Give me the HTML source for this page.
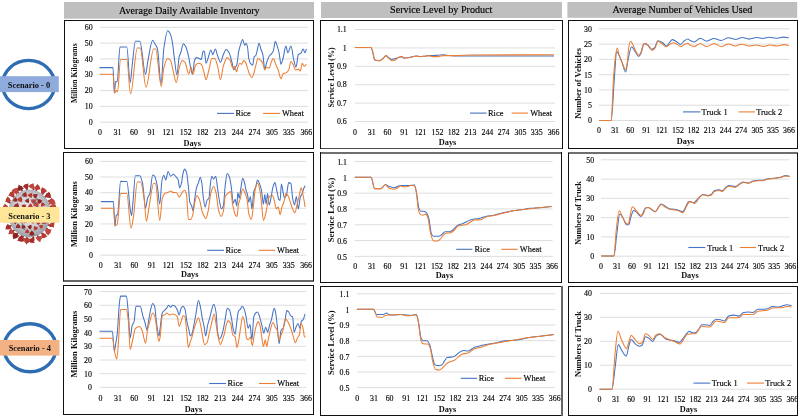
<!DOCTYPE html>
<html><head><meta charset="utf-8"><style>
html,body{margin:0;padding:0;background:#fff;width:800px;height:417px;overflow:hidden}
svg{display:block;will-change:transform}
text{font-family:"Liberation Serif", serif;fill:#1a1a1a}
.t{font-size:7.9px;fill:#000;stroke:#000;stroke-width:0.14px}
.l{font-size:8.4px;fill:#000;stroke:#000;stroke-width:0.14px}
.b{font-size:8.3px;font-weight:bold;fill:#111}
.yt{font-size:7.7px;font-weight:bold;fill:#111}
.h{font-size:10.1px;fill:#000;stroke:#000;stroke-width:0.15px}
.s{font-size:8.4px;font-weight:bold;fill:#111}
</style></head><body>
<svg width="800" height="417" viewBox="0 0 800 417">
<rect x="64" y="2" width="250" height="16.7" fill="#BFBFBF"/>
<text x="189.3" y="14.3" text-anchor="middle" class="h">Average Daily Available Inventory</text>
<rect x="321" y="2" width="241" height="16" fill="#BFBFBF"/>
<text x="441.2" y="13" text-anchor="middle" class="h">Service Level by Product</text>
<rect x="567.4" y="2" width="229.8" height="15.8" fill="#BFBFBF"/>
<text x="682.4" y="13" text-anchor="middle" class="h">Average Number of Vehicles Used</text>
<line x1="100" y1="27.3" x2="307.8" y2="27.3" stroke="#D9D9D9" stroke-width="0.9"/>
<text x="92.6" y="29.9" text-anchor="end" class="t">60</text>
<line x1="100" y1="43.12" x2="307.8" y2="43.12" stroke="#D9D9D9" stroke-width="0.9"/>
<text x="92.6" y="45.72" text-anchor="end" class="t">50</text>
<line x1="100" y1="58.93" x2="307.8" y2="58.93" stroke="#D9D9D9" stroke-width="0.9"/>
<text x="92.6" y="61.53" text-anchor="end" class="t">40</text>
<line x1="100" y1="74.75" x2="307.8" y2="74.75" stroke="#D9D9D9" stroke-width="0.9"/>
<text x="92.6" y="77.35" text-anchor="end" class="t">30</text>
<line x1="100" y1="90.57" x2="307.8" y2="90.57" stroke="#D9D9D9" stroke-width="0.9"/>
<text x="92.6" y="93.17" text-anchor="end" class="t">20</text>
<line x1="100" y1="106.38" x2="307.8" y2="106.38" stroke="#D9D9D9" stroke-width="0.9"/>
<text x="92.6" y="108.98" text-anchor="end" class="t">10</text>
<line x1="100" y1="122.2" x2="307.8" y2="122.2" stroke="#D9D9D9" stroke-width="0.9"/>
<text x="92.6" y="124.8" text-anchor="end" class="t">0</text>
<text x="100.1" y="134.8" text-anchor="middle" class="t">0</text>
<text x="117.57" y="134.8" text-anchor="middle" class="t">31</text>
<text x="133.9" y="134.8" text-anchor="middle" class="t">60</text>
<text x="151.37" y="134.8" text-anchor="middle" class="t">91</text>
<text x="168.27" y="134.8" text-anchor="middle" class="t">121</text>
<text x="185.73" y="134.8" text-anchor="middle" class="t">152</text>
<text x="202.64" y="134.8" text-anchor="middle" class="t">182</text>
<text x="220.1" y="134.8" text-anchor="middle" class="t">213</text>
<text x="237.57" y="134.8" text-anchor="middle" class="t">244</text>
<text x="254.47" y="134.8" text-anchor="middle" class="t">274</text>
<text x="271.93" y="134.8" text-anchor="middle" class="t">305</text>
<text x="288.83" y="134.8" text-anchor="middle" class="t">335</text>
<text x="306.3" y="134.8" text-anchor="middle" class="t">366</text>
<text x="192.25" y="145.8" text-anchor="middle" class="b">Days</text>
<text transform="translate(77.4,73.2) rotate(-90)" text-anchor="middle" class="yt" style="font-size:7.6px">Million Kilograms</text>
<line x1="217" y1="113.4" x2="234" y2="113.4" stroke="#4472C4" stroke-width="1.1"/>
<line x1="263.1" y1="113.4" x2="279.9" y2="113.4" stroke="#ED7D31" stroke-width="1.1"/>
<text x="235.4" y="116" class="l">Rice</text>
<text x="281.9" y="116" class="l">Wheat</text>
<path d="M99.5,67.6 C104,67.6 108.5,67.6 113,67.6 C113.43,67.6 113.87,93 114.3,93 C114.77,93 115.23,81.6 115.7,81.6 C116.2,81.6 116.7,81.6 117.2,81.6 C118.13,81.6 119.07,47 120,47 C122.27,47 124.53,47 126.8,47 C127.93,47 129.07,82.5 130.2,82.5 C130.87,82.5 131.53,70.67 132.2,65.3 C133.27,56.71 134.33,41.3 135.4,41.3 C136.87,41.3 138.33,41.3 139.8,41.3 C141.73,41.3 143.67,74.3 145.6,74.3 C146.23,74.3 146.87,66.54 147.5,63.3 C149.23,54.42 150.97,40.3 152.7,40.3 C153.47,40.3 154.23,42.63 155,44 C155.83,45.48 156.67,46.32 157.5,49 C158.67,52.75 159.83,84 161,84 C161.93,84 162.87,55.53 163.8,49 C165.1,39.9 166.4,30.7 167.7,30.7 C168.67,30.7 169.63,32.52 170.6,34.6 C171.23,35.96 171.87,39.53 172.5,43.2 C173.13,46.87 173.77,53.9 174.4,58.5 C175.23,64.55 176.07,74.9 176.9,74.9 C177.67,74.9 178.43,59.44 179.2,56.6 C179.7,54.75 180.2,54.22 180.7,52.8 C181.6,50.24 182.5,43.8 183.4,43.8 C184.23,43.8 185.07,45.44 185.9,47 C186.87,48.81 187.83,53.29 188.8,57.6 C189.43,60.43 190.07,65.5 190.7,68.1 C191.33,70.7 191.97,74.3 192.6,74.3 C193.23,74.3 193.87,62.04 194.5,60.5 C195.17,58.88 195.83,57.6 196.5,57.6 C197.47,57.6 198.43,58.12 199.4,58.5 C200.03,58.75 200.67,59.5 201.3,59.5 C201.93,59.5 202.57,50.9 203.2,50.9 C203.63,50.9 204.07,51.26 204.5,51.8 C205,52.42 205.5,63.3 206,63.3 C206.67,63.3 207.33,60.26 208,58.5 C208.97,55.95 209.93,49.9 210.9,49.9 C211.53,49.9 212.17,54.7 212.8,54.7 C213.63,54.7 214.47,49 215.3,49 C216.07,49 216.83,53.72 217.6,55.7 C218.57,58.2 219.53,62.4 220.5,62.4 C221.43,62.4 222.37,56.73 223.3,54.7 C224.27,52.6 225.23,49.5 226.2,49.5 C227.17,49.5 228.13,51.16 229.1,52.8 C230.07,54.44 231.03,58.88 232,62.4 C232.63,64.71 233.27,70 233.9,70 C234.27,70 234.63,68.78 235,68.1 C235.63,66.93 236.27,66.27 236.9,64.3 C237.53,62.33 238.17,53.91 238.8,50.9 C239.33,48.37 239.87,46.69 240.4,45.1 C241.17,42.82 241.93,39.4 242.7,39.4 C243.33,39.4 243.97,45.1 244.6,45.1 C245.1,45.1 245.6,43.2 246.1,43.2 C246.57,43.2 247.03,45.05 247.5,47 C247.93,48.81 248.37,56.52 248.8,58.5 C249.33,60.93 249.87,62.56 250.4,63.3 C251.17,64.37 251.93,65.3 252.7,65.3 C253.2,65.3 253.7,57.14 254.2,56.6 C254.7,56.06 255.2,56.21 255.7,55.7 C256.17,55.22 256.63,52.63 257.1,50.9 C257.73,48.56 258.37,43.2 259,43.2 C259.63,43.2 260.27,47.08 260.9,49 C261.53,50.92 262.17,52.03 262.8,54.7 C263.47,57.51 264.13,69.1 264.8,69.1 C265.43,69.1 266.07,64.23 266.7,62.4 C267.63,59.71 268.57,56.94 269.5,55.7 C270.17,54.81 270.83,54.58 271.5,53.8 C272.13,53.06 272.77,52.38 273.4,50.9 C274.03,49.42 274.67,41.3 275.3,41.3 C275.93,41.3 276.57,44.24 277.2,46.1 C277.83,47.96 278.47,49.98 279.1,52.8 C279.73,55.62 280.37,64.3 281,64.3 C281.67,64.3 282.33,60.78 283,58.5 C283.97,55.2 284.93,46.1 285.9,46.1 C286.53,46.1 287.17,52.8 287.8,52.8 C288.87,52.8 289.93,46.1 291,46.1 C291.83,46.1 292.67,55.09 293.5,58.5 C294.33,61.91 295.17,67.2 296,67.2 C296.77,67.2 297.53,55.62 298.3,54.7 C299.27,53.53 300.23,53.79 301.2,52.8 C301.83,52.15 302.47,49 303.1,49 C303.73,49 304.37,52.8 305,52.8 C305.47,52.8 305.93,50.27 306.4,49" fill="none" stroke="#4472C4" stroke-width="1.05" stroke-linejoin="round"/>
<path d="M99.5,74.3 C104,74.3 108.5,74.3 113,74.3 C113.63,74.3 114.27,93 114.9,93 C115.33,93 115.77,90.2 116.2,90.2 C116.63,90.2 117.07,92 117.5,92 C118.53,92 119.57,59.5 120.6,59.5 C122.67,59.5 124.73,59.5 126.8,59.5 C128.07,59.5 129.33,94 130.6,94 C132.83,94 135.07,48 137.3,48 C138.27,48 139.23,48 140.2,48 C142.13,48 144.07,87.3 146,87.3 C148.57,87.3 151.13,49 153.7,49 C154.33,49 154.97,49 155.6,49 C157.5,49 159.4,86.4 161.3,86.4 C162.13,86.4 162.97,71.29 163.8,68.1 C165.1,63.13 166.4,58.5 167.7,58.5 C168.67,58.5 169.63,59.35 170.6,60.5 C171.53,61.61 172.47,68.41 173.4,72 C174.37,75.72 175.33,82.5 176.3,82.5 C177.27,82.5 178.23,71.42 179.2,68.1 C180.17,64.78 181.13,60.5 182.1,60.5 C183.07,60.5 184.03,61.39 185,62.4 C186.27,63.73 187.53,73.9 188.8,73.9 C189.57,73.9 190.33,67.2 191.1,67.2 C191.73,67.2 192.37,73.9 193,73.9 C193.83,73.9 194.67,66.27 195.5,65.3 C196.47,64.17 197.43,63.3 198.4,63.3 C199.37,63.3 200.33,63.7 201.3,64.3 C202.23,64.88 203.17,69.8 204.1,72.9 C204.73,75 205.37,79.7 206,79.7 C206.97,79.7 207.93,73.51 208.9,70 C209.87,66.49 210.83,58.5 211.8,58.5 C212.77,58.5 213.73,58.5 214.7,58.5 C215.67,58.5 216.63,62.93 217.6,66.2 C218.57,69.47 219.53,79.7 220.5,79.7 C221.43,79.7 222.37,69.08 223.3,66.2 C224.6,62.18 225.9,57.6 227.2,57.6 C228.17,57.6 229.13,59.08 230.1,60.5 C231.03,61.87 231.97,68.1 232.9,68.1 C233.57,68.1 234.23,66.2 234.9,66.2 C235.43,66.2 235.97,72 236.5,72 C236.97,72 237.43,68.41 237.9,67.2 C238.53,65.55 239.17,63.3 239.8,63.3 C240.43,63.3 241.07,64.3 241.7,64.3 C242.33,64.3 242.97,60.5 243.6,60.5 C244.27,60.5 244.93,61.43 245.6,62.4 C246.23,63.32 246.87,66.18 247.5,68.1 C248.13,70.02 248.77,72.59 249.4,73.9 C250.23,75.62 251.07,77.7 251.9,77.7 C252.67,77.7 253.43,74.38 254.2,72 C254.83,70.04 255.47,66.51 256.1,64.3 C256.73,62.09 257.37,58.5 258,58.5 C258.97,58.5 259.93,59.57 260.9,60.5 C261.53,61.11 262.17,62.01 262.8,63.3 C263.47,64.66 264.13,70 264.8,70 C265.43,70 266.07,67.2 266.7,67.2 C267.53,67.2 268.37,68.1 269.2,68.1 C269.97,68.1 270.73,62.92 271.5,61.4 C272.13,60.14 272.77,58.5 273.4,58.5 C274.17,58.5 274.93,62.46 275.7,64.3 C276.53,66.3 277.37,67.81 278.2,70 C279.13,72.45 280.07,78.7 281,78.7 C281.67,78.7 282.33,74.32 283,73.9 C283.97,73.29 284.93,73.4 285.9,72.9 C286.83,72.42 287.77,71.54 288.7,70 C289.47,68.73 290.23,61.4 291,61.4 C291.83,61.4 292.67,63.73 293.5,65.3 C294.17,66.56 294.83,70 295.5,70 C296.43,70 297.37,69.1 298.3,69.1 C298.97,69.1 299.63,71 300.3,71 C300.93,71 301.57,63.3 302.2,63.3 C302.83,63.3 303.47,66.2 304.1,66.2 C304.87,66.2 305.63,64.93 306.4,64.3" fill="none" stroke="#ED7D31" stroke-width="1.05" stroke-linejoin="round"/>
<line x1="64" y1="20.5" x2="314" y2="20.5" stroke="#111" stroke-width="1.05"/>
<line x1="64" y1="148.5" x2="314" y2="148.5" stroke="#111" stroke-width="1.05"/>
<line x1="64.5" y1="20" x2="64.5" y2="149" stroke="#111" stroke-width="1.05"/>
<line x1="313.5" y1="20" x2="313.5" y2="149" stroke="#111" stroke-width="1.05"/>
<line x1="355" y1="29.5" x2="555" y2="29.5" stroke="#D9D9D9" stroke-width="0.9"/>
<text x="346.8" y="32.1" text-anchor="end" class="t">1.1</text>
<line x1="355" y1="47.9" x2="555" y2="47.9" stroke="#D9D9D9" stroke-width="0.9"/>
<text x="346.8" y="50.5" text-anchor="end" class="t">1</text>
<line x1="355" y1="66.3" x2="555" y2="66.3" stroke="#D9D9D9" stroke-width="0.9"/>
<text x="346.8" y="68.9" text-anchor="end" class="t">0.9</text>
<line x1="355" y1="84.7" x2="555" y2="84.7" stroke="#D9D9D9" stroke-width="0.9"/>
<text x="346.8" y="87.3" text-anchor="end" class="t">0.8</text>
<line x1="355" y1="103.1" x2="555" y2="103.1" stroke="#D9D9D9" stroke-width="0.9"/>
<text x="346.8" y="105.7" text-anchor="end" class="t">0.7</text>
<line x1="355" y1="121.5" x2="555" y2="121.5" stroke="#D9D9D9" stroke-width="0.9"/>
<text x="346.8" y="124.1" text-anchor="end" class="t">0.6</text>
<text x="354.9" y="134.7" text-anchor="middle" class="t">0</text>
<text x="371.73" y="134.7" text-anchor="middle" class="t">31</text>
<text x="387.47" y="134.7" text-anchor="middle" class="t">60</text>
<text x="404.3" y="134.7" text-anchor="middle" class="t">91</text>
<text x="420.59" y="134.7" text-anchor="middle" class="t">121</text>
<text x="437.42" y="134.7" text-anchor="middle" class="t">152</text>
<text x="453.71" y="134.7" text-anchor="middle" class="t">182</text>
<text x="470.54" y="134.7" text-anchor="middle" class="t">213</text>
<text x="487.37" y="134.7" text-anchor="middle" class="t">244</text>
<text x="503.65" y="134.7" text-anchor="middle" class="t">274</text>
<text x="520.48" y="134.7" text-anchor="middle" class="t">305</text>
<text x="536.77" y="134.7" text-anchor="middle" class="t">335</text>
<text x="553.6" y="134.7" text-anchor="middle" class="t">366</text>
<text x="447.6" y="144.75" text-anchor="middle" class="b">Days</text>
<text transform="translate(334,77.5) rotate(-90)" text-anchor="middle" class="yt" style="font-size:7.9px">Service Level (%)</text>
<line x1="470" y1="113.1" x2="486.6" y2="113.1" stroke="#4472C4" stroke-width="1.1"/>
<line x1="511.6" y1="113.1" x2="528" y2="113.1" stroke="#ED7D31" stroke-width="1.1"/>
<text x="488" y="115.7" class="l">Rice</text>
<text x="530.2" y="115.7" class="l">Wheat</text>
<path d="M354.8,47.4 C360.17,47.4 365.53,47.4 370.9,47.4 C371.5,47.4 372.1,50.01 372.7,51.8 C373.4,53.89 374.1,59.78 374.8,60 C376.4,60.51 378,60.7 379.6,60.7 C380.73,60.7 381.87,59.47 383,58.6 C384,57.83 385,55.6 386,55.6 C386.6,55.6 387.2,56.36 387.8,56.8 C388.5,57.31 389.2,58.14 389.9,58.5 C390.6,58.86 391.3,59.3 392,59.3 C393.13,59.3 394.27,58.9 395.4,58.6 C396.27,58.37 397.13,57.98 398,57.7 C399.2,57.31 400.4,56.6 401.6,56.6 C402.27,56.6 402.93,57.9 403.6,57.9 C405,57.9 406.4,57.8 407.8,57.7 C409.17,57.6 410.53,57.29 411.9,57 C413.27,56.71 414.63,55.9 416,55.9 C417.4,55.9 418.8,56.6 420.2,56.6 C421.57,56.6 422.93,56.36 424.3,56.2 C425.67,56.04 427.03,55.6 428.4,55.6 C429.77,55.6 431.13,55.6 432.5,55.6 C434.33,55.6 436.17,55.33 438,55.2 C439.83,55.07 441.67,54.8 443.5,54.8 C445.33,54.8 447.17,55.45 449,55.6 C450.83,55.75 452.67,55.88 454.5,55.9 C460.17,55.97 465.83,56 471.5,56 C499,56 526.5,55.93 554,55.9" fill="none" stroke="#4472C4" stroke-width="1.05" stroke-linejoin="round"/>
<path d="M354.8,47.4 C360.17,47.4 365.53,47.4 370.9,47.4 C371.5,47.4 372.1,50.01 372.7,51.8 C373.4,53.89 374.1,59.78 374.8,60 C376.4,60.51 378,60.7 379.6,60.7 C380.73,60.7 381.87,59.47 383,58.6 C384,57.83 385,55.6 386,55.6 C386.6,55.6 387.2,56.73 387.8,57.3 C388.5,57.96 389.2,58.75 389.9,59.3 C390.6,59.85 391.3,60.7 392,60.7 C393.13,60.7 394.27,60.39 395.4,60 C396.27,59.7 397.13,58.1 398,57.7 C399.2,57.14 400.4,56.6 401.6,56.6 C402.27,56.6 402.93,57.9 403.6,57.9 C405,57.9 406.4,57.8 407.8,57.7 C409.17,57.6 410.53,57.29 411.9,57 C413.27,56.71 414.63,55.9 416,55.9 C417.4,55.9 418.8,56.6 420.2,56.6 C421.57,56.6 422.93,56.36 424.3,56.2 C425.67,56.04 427.03,55.6 428.4,55.6 C429.77,55.6 431.13,56.6 432.5,56.6 C434.33,56.6 436.17,56.6 438,56.6 C439.83,56.6 441.67,55.6 443.5,55.6 C445.33,55.6 447.17,55.6 449,55.6 C450.83,55.6 452.67,55.6 454.5,55.6 C460.17,55.6 465.83,55.03 471.5,55 C499,54.85 526.5,54.87 554,54.8" fill="none" stroke="#ED7D31" stroke-width="1.05" stroke-linejoin="round"/>
<line x1="320" y1="20.5" x2="563" y2="20.5" stroke="#111" stroke-width="1.05"/>
<line x1="320" y1="148.5" x2="563" y2="148.5" stroke="#4a4a4a" stroke-width="1.2"/>
<line x1="320.5" y1="20" x2="320.5" y2="149" stroke="#111" stroke-width="1.05"/>
<line x1="562.5" y1="20" x2="562.5" y2="149" stroke="#111" stroke-width="1.05"/>
<line x1="599" y1="28.8" x2="789.5" y2="28.8" stroke="#D9D9D9" stroke-width="0.9"/>
<text x="592" y="31.7" text-anchor="end" class="t">30</text>
<line x1="599" y1="44.08" x2="789.5" y2="44.08" stroke="#D9D9D9" stroke-width="0.9"/>
<text x="592" y="46.98" text-anchor="end" class="t">25</text>
<line x1="599" y1="59.37" x2="789.5" y2="59.37" stroke="#D9D9D9" stroke-width="0.9"/>
<text x="592" y="62.27" text-anchor="end" class="t">20</text>
<line x1="599" y1="74.65" x2="789.5" y2="74.65" stroke="#D9D9D9" stroke-width="0.9"/>
<text x="592" y="77.55" text-anchor="end" class="t">15</text>
<line x1="599" y1="89.93" x2="789.5" y2="89.93" stroke="#D9D9D9" stroke-width="0.9"/>
<text x="592" y="92.83" text-anchor="end" class="t">10</text>
<line x1="599" y1="105.22" x2="789.5" y2="105.22" stroke="#D9D9D9" stroke-width="0.9"/>
<text x="592" y="108.12" text-anchor="end" class="t">5</text>
<line x1="599" y1="120.5" x2="789.5" y2="120.5" stroke="#D9D9D9" stroke-width="0.9"/>
<text x="592" y="123.4" text-anchor="end" class="t">0</text>
<text x="599" y="133.1" text-anchor="middle" class="t">0</text>
<text x="615.09" y="133.1" text-anchor="middle" class="t">31</text>
<text x="630.15" y="133.1" text-anchor="middle" class="t">60</text>
<text x="646.24" y="133.1" text-anchor="middle" class="t">91</text>
<text x="661.81" y="133.1" text-anchor="middle" class="t">121</text>
<text x="677.91" y="133.1" text-anchor="middle" class="t">152</text>
<text x="693.48" y="133.1" text-anchor="middle" class="t">182</text>
<text x="709.57" y="133.1" text-anchor="middle" class="t">213</text>
<text x="725.67" y="133.1" text-anchor="middle" class="t">244</text>
<text x="741.24" y="133.1" text-anchor="middle" class="t">274</text>
<text x="757.33" y="133.1" text-anchor="middle" class="t">305</text>
<text x="772.91" y="133.1" text-anchor="middle" class="t">335</text>
<text x="789" y="133.1" text-anchor="middle" class="t">366</text>
<text x="685.6" y="143.5" text-anchor="middle" class="b">Days</text>
<text transform="translate(580.5,83.3) rotate(-90)" text-anchor="middle" class="yt" style="font-size:8.5px">Number of Vehicles</text>
<line x1="683" y1="111.9" x2="700.4" y2="111.9" stroke="#4472C4" stroke-width="1.1"/>
<line x1="738.5" y1="111.9" x2="755" y2="111.9" stroke="#ED7D31" stroke-width="1.1"/>
<text x="701.6" y="114.5" class="l">Truck 1</text>
<text x="756.2" y="114.5" class="l">Truck 2</text>
<path d="M599.2,120.4 C603.2,120.4 607.2,120.4 611.2,120.4 C612.23,120.4 613.27,91.9 614.3,79.2 C615.1,69.37 615.9,51.6 616.7,51.6 C617.5,51.6 618.3,53.72 619.1,55.2 C620.07,56.99 621.03,59.92 622,62.4 C623.2,65.48 624.4,72 625.6,72 C626.4,72 627.2,63.42 628,60 C629.2,54.87 630.4,46.8 631.6,46.8 C632.8,46.8 634,50 635.2,51.6 C636.4,53.2 637.6,56.4 638.8,56.4 C639.6,56.4 640.4,54.43 641.2,52.8 C642.13,50.9 643.07,43.7 644,43.7 C645.07,43.7 646.13,44.03 647.2,44.4 C648.8,44.95 650.4,49.2 652,49.2 C652.8,49.2 653.6,48.62 654.4,48 C655.6,47.08 656.8,40.8 658,40.8 C659.57,40.8 661.13,41.8 662.7,42.7 C663.9,43.39 665.1,46.1 666.3,46.1 C667.5,46.1 668.7,43.27 669.9,42 C670.7,41.15 671.5,39.6 672.3,39.6 C673.5,39.6 674.7,40.65 675.9,41.3 C677.5,42.17 679.1,44.4 680.7,44.4 C681.9,44.4 683.1,41.62 684.3,40.8 C685.53,39.96 686.77,38.9 688,38.9 C688.67,38.9 689.33,40.17 690,40.5 C691.37,41.19 692.73,41.9 694.1,41.9 C696.17,41.9 698.23,38.2 700.3,38.2 C702.37,38.2 704.43,41.2 706.5,41.2 C709.03,41.2 711.57,38.4 714.1,38.4 C716.4,38.4 718.7,40.5 721,40.5 C723.5,40.5 726,37.8 728.5,37.8 C730.8,37.8 733.1,39.4 735.4,39.4 C737.7,39.4 740,37.5 742.3,37.5 C744.57,37.5 746.83,39.1 749.1,39.1 C751.63,39.1 754.17,37.5 756.7,37.5 C758.77,37.5 760.83,38.4 762.9,38.4 C764.97,38.4 767.03,37.3 769.1,37.3 C771.4,37.3 773.7,38.2 776,38.2 C778.5,38.2 781,37.1 783.5,37.1 C785.27,37.1 787.03,37.57 788.8,37.8" fill="none" stroke="#4472C4" stroke-width="1.05" stroke-linejoin="round"/>
<path d="M599.2,120.4 C603.2,120.4 607.2,120.4 611.2,120.4 C612,120.4 612.8,87.8 613.6,76.8 C614.17,69.01 614.73,61.58 615.3,57.6 C615.93,53.15 616.57,48 617.2,48 C617.83,48 618.47,53.27 619.1,55.2 C620.07,58.14 621.03,60.25 622,62.4 C623.2,65.07 624.4,69.6 625.6,69.6 C626.17,69.6 626.73,65.85 627.3,62.4 C627.77,59.56 628.23,50.7 628.7,48 C629.27,44.72 629.83,41.3 630.4,41.3 C631.2,41.3 632,43.09 632.8,44.4 C633.83,46.09 634.87,49.93 635.9,51.6 C636.87,53.16 637.83,55.2 638.8,55.2 C639.43,55.2 640.07,53.91 640.7,52.8 C641.67,51.11 642.63,44.07 643.6,43.7 C644.4,43.4 645.2,43.2 646,43.2 C646.8,43.2 647.6,45.14 648.4,46.1 C649.6,47.54 650.8,50.4 652,50.4 C652.8,50.4 653.6,49.83 654.4,49.2 C655.6,48.26 656.8,41.3 658,41.3 C659.17,41.3 660.33,42.47 661.5,43.2 C663.1,44.2 664.7,46.8 666.3,46.8 C667.5,46.8 668.7,45.06 669.9,44.4 C671.1,43.74 672.3,42.7 673.5,42.7 C674.7,42.7 675.9,43.74 677.1,44.4 C678.3,45.06 679.5,46.8 680.7,46.8 C681.9,46.8 683.1,44.92 684.3,44.4 C685.53,43.86 686.77,43.2 688,43.2 C688.67,43.2 689.33,44.99 690,45.3 C691.37,45.93 692.73,46.4 694.1,46.4 C696.17,46.4 698.23,43.5 700.3,43.5 C702.37,43.5 704.43,46.7 706.5,46.7 C709.03,46.7 711.57,43.5 714.1,43.5 C716.6,43.5 719.1,46.7 721.6,46.7 C723.9,46.7 726.2,43.9 728.5,43.9 C730.8,43.9 733.1,46 735.4,46 C737.47,46 739.53,44.2 741.6,44.2 C744.1,44.2 746.6,46 749.1,46 C751.4,46 753.7,45 756,45 C758.53,45 761.07,46.4 763.6,46.4 C765.67,46.4 767.73,45 769.8,45 C772.3,45 774.8,46 777.3,46 C779.6,46 781.9,44.6 784.2,44.6 C785.73,44.6 787.27,45.33 788.8,45.7" fill="none" stroke="#ED7D31" stroke-width="1.05" stroke-linejoin="round"/>
<line x1="568" y1="20.5" x2="798" y2="20.5" stroke="#111" stroke-width="1.05"/>
<line x1="568" y1="148.5" x2="798" y2="148.5" stroke="#111" stroke-width="1.05"/>
<line x1="568.5" y1="20" x2="568.5" y2="149" stroke="#111" stroke-width="1.05"/>
<line x1="797.5" y1="20" x2="797.5" y2="149" stroke="#111" stroke-width="1.05"/>
<line x1="100.5" y1="161.4" x2="306" y2="161.4" stroke="#D9D9D9" stroke-width="0.9"/>
<text x="93" y="164" text-anchor="end" class="t">60</text>
<line x1="100.5" y1="177.03" x2="306" y2="177.03" stroke="#D9D9D9" stroke-width="0.9"/>
<text x="93" y="179.63" text-anchor="end" class="t">50</text>
<line x1="100.5" y1="192.67" x2="306" y2="192.67" stroke="#D9D9D9" stroke-width="0.9"/>
<text x="93" y="195.27" text-anchor="end" class="t">40</text>
<line x1="100.5" y1="208.3" x2="306" y2="208.3" stroke="#D9D9D9" stroke-width="0.9"/>
<text x="93" y="210.9" text-anchor="end" class="t">30</text>
<line x1="100.5" y1="223.93" x2="306" y2="223.93" stroke="#D9D9D9" stroke-width="0.9"/>
<text x="93" y="226.53" text-anchor="end" class="t">20</text>
<line x1="100.5" y1="239.57" x2="306" y2="239.57" stroke="#D9D9D9" stroke-width="0.9"/>
<text x="93" y="242.17" text-anchor="end" class="t">10</text>
<line x1="100.5" y1="255.2" x2="306" y2="255.2" stroke="#D9D9D9" stroke-width="0.9"/>
<text x="93" y="257.8" text-anchor="end" class="t">0</text>
<text x="100.7" y="268.4" text-anchor="middle" class="t">0</text>
<text x="118.1" y="268.4" text-anchor="middle" class="t">31</text>
<text x="134.37" y="268.4" text-anchor="middle" class="t">60</text>
<text x="151.77" y="268.4" text-anchor="middle" class="t">91</text>
<text x="168.61" y="268.4" text-anchor="middle" class="t">121</text>
<text x="186" y="268.4" text-anchor="middle" class="t">152</text>
<text x="202.84" y="268.4" text-anchor="middle" class="t">182</text>
<text x="220.24" y="268.4" text-anchor="middle" class="t">213</text>
<text x="237.63" y="268.4" text-anchor="middle" class="t">244</text>
<text x="254.47" y="268.4" text-anchor="middle" class="t">274</text>
<text x="271.87" y="268.4" text-anchor="middle" class="t">305</text>
<text x="288.7" y="268.4" text-anchor="middle" class="t">335</text>
<text x="306.1" y="268.4" text-anchor="middle" class="t">366</text>
<text x="189.7" y="276.9" text-anchor="middle" class="b">Days</text>
<text transform="translate(77,214.2) rotate(-90)" text-anchor="middle" class="yt" style="font-size:8.4px">Million Kilograms</text>
<line x1="207.2" y1="250.3" x2="223.9" y2="250.3" stroke="#4472C4" stroke-width="1.1"/>
<line x1="258.8" y1="250.3" x2="275.1" y2="250.3" stroke="#ED7D31" stroke-width="1.1"/>
<text x="225.5" y="252.9" class="l">Rice</text>
<text x="277.1" y="252.9" class="l">Wheat</text>
<path d="M100.9,201.6 C105.07,201.6 109.23,201.6 113.4,201.6 C113.9,201.6 114.4,226.1 114.9,226.1 C115.33,226.1 115.77,216.17 116.2,215.6 C116.67,214.98 117.13,215.17 117.6,214.6 C118.6,213.39 119.6,181.4 120.6,181.4 C122.67,181.4 124.73,181.4 126.8,181.4 C128.07,181.4 129.33,205.48 130.6,211.7 C130.93,213.34 131.27,215.6 131.6,215.6 C132.03,215.6 132.47,207.51 132.9,203.1 C133.73,194.62 134.57,175.7 135.4,175.7 C136.87,175.7 138.33,175.7 139.8,175.7 C140.7,175.7 141.6,179.4 142.5,183 C143.53,187.13 144.57,207.9 145.6,207.9 C146.23,207.9 146.87,200.2 147.5,198.3 C148.27,196.01 149.03,195.87 149.8,193.5 C150.77,190.51 151.73,174.9 152.7,174.9 C153.33,174.9 153.97,175.5 154.6,176.2 C155.43,177.12 156.27,181.02 157.1,184.9 C158,189.09 158.9,204.1 159.8,204.1 C160.5,204.1 161.2,184.27 161.9,181 C162.53,178.04 163.17,175.3 163.8,175.3 C164.47,175.3 165.13,180 165.8,180 C166.57,180 167.33,171.4 168.1,171.4 C168.93,171.4 169.77,176.2 170.6,176.2 C171.53,176.2 172.47,174.3 173.4,174.3 C174.37,174.3 175.33,176.03 176.3,177.2 C176.93,177.96 177.57,178.48 178.2,180 C178.67,181.12 179.13,187.8 179.6,187.8 C180.23,187.8 180.87,185.33 181.5,183 C182,181.16 182.5,175.3 183,173.4 C183.53,171.37 184.07,169.1 184.6,169.1 C185.23,169.1 185.87,170.61 186.5,172.4 C187.13,174.19 187.77,181.08 188.4,186.8 C188.87,191.02 189.33,200.43 189.8,202.1 C190.43,204.37 191.07,204.3 191.7,206 C192.13,207.16 192.57,210.8 193,210.8 C193.5,210.8 194,203.61 194.5,200.3 C195.17,195.89 195.83,190.19 196.5,187.8 C197.13,185.53 197.77,184.75 198.4,183 C199.03,181.25 199.67,177.2 200.3,177.2 C200.8,177.2 201.3,180.23 201.8,183 C202.27,185.58 202.73,193.07 203.2,196.4 C203.83,200.92 204.47,207 205.1,207 C205.73,207 206.37,201.33 207,200.3 C207.63,199.27 208.27,199.55 208.9,198.3 C209.37,197.38 209.83,188.28 210.3,184.9 C210.8,181.28 211.3,176.2 211.8,176.2 C212.43,176.2 213.07,179.1 213.7,179.1 C214.37,179.1 215.03,176.2 215.7,176.2 C216.33,176.2 216.97,184.53 217.6,188.7 C218.23,192.87 218.87,198.02 219.5,201.2 C220.13,204.38 220.77,208.9 221.4,208.9 C222.03,208.9 222.67,207.68 223.3,206 C223.97,204.23 224.63,190.02 225.3,184.9 C225.93,180.04 226.57,173.4 227.2,173.4 C227.97,173.4 228.73,175.21 229.5,177.2 C230.13,178.84 230.77,183.63 231.4,187.8 C232.03,191.97 232.67,203.1 233.3,203.1 C233.93,203.1 234.57,199.3 235.2,199.3 C235.73,199.3 236.27,206 236.8,206 C237.17,206 237.53,192.5 237.9,192.5 C238.33,192.5 238.77,198.3 239.2,198.3 C239.73,198.3 240.27,191.77 240.8,188.7 C241.43,185.05 242.07,178.2 242.7,178.2 C243.33,178.2 243.97,180.84 244.6,183 C245.1,184.71 245.6,188.81 246.1,190.6 C246.57,192.27 247.03,192.73 247.5,194.5 C247.93,196.14 248.37,202.1 248.8,202.1 C249.33,202.1 249.87,196.4 250.4,196.4 C250.9,196.4 251.4,208.9 251.9,208.9 C252.53,208.9 253.17,194.1 253.8,191.6 C254.43,189.1 255.07,188.68 255.7,186.8 C256.33,184.92 256.97,180 257.6,180 C258.27,180 258.93,182.22 259.6,183.9 C260.23,185.49 260.87,187.61 261.5,190.6 C262.13,193.59 262.77,204.1 263.4,204.1 C263.87,204.1 264.33,194.5 264.8,194.5 C265.23,194.5 265.67,204.1 266.1,204.1 C266.6,204.1 267.1,193.5 267.6,193.5 C268.13,193.5 268.67,205 269.2,205 C269.83,205 270.47,200.26 271.1,197.3 C271.73,194.34 272.37,188.8 273,186.8 C273.63,184.8 274.27,182.6 274.9,182.6 C275.53,182.6 276.17,187.89 276.8,190.6 C277.47,193.45 278.13,198.47 278.8,199.3 C279.23,199.84 279.67,200.3 280.1,200.3 C280.53,200.3 280.97,183.9 281.4,183.9 C281.93,183.9 282.47,189.13 283,191.6 C283.5,193.92 284,198.3 284.5,198.3 C285.13,198.3 285.77,196.89 286.4,195.4 C287.17,193.6 287.93,182.6 288.7,182.6 C289.47,182.6 290.23,183.04 291,183.9 C291.53,184.5 292.07,195.56 292.6,198.3 C293.23,201.55 293.87,205 294.5,205 C295.13,205 295.77,196.4 296.4,196.4 C297.03,196.4 297.67,208.9 298.3,208.9 C298.97,208.9 299.63,199.27 300.3,197.3 C300.93,195.42 301.57,195.07 302.2,193.5 C302.7,192.26 303.2,189.95 303.7,188.7 C304.17,187.53 304.63,186.77 305.1,185.8" fill="none" stroke="#4472C4" stroke-width="1.05" stroke-linejoin="round"/>
<path d="M100.9,208.3 C105.07,208.3 109.23,208.3 113.4,208.3 C114.03,208.3 114.67,225.6 115.3,225.6 C115.93,225.6 116.57,225 117.2,224.2 C118.33,222.77 119.47,193.5 120.6,193.5 C122.67,193.5 124.73,193.5 126.8,193.5 C128.2,193.5 129.6,228.1 131,228.1 C131.83,228.1 132.67,221.51 133.5,216.5 C134.77,208.89 136.03,182 137.3,182 C138.4,182 139.5,182 140.6,182 C141.77,182 142.93,190.69 144.1,198.3 C144.87,203.3 145.63,221.3 146.4,221.3 C147.23,221.3 148.07,212.28 148.9,207.9 C150.5,199.5 152.1,183.3 153.7,183.3 C154.33,183.3 154.97,183.55 155.6,183.9 C157,184.66 158.4,220.4 159.8,220.4 C160.63,220.4 161.47,200.93 162.3,198.3 C163.13,195.67 163.97,194 164.8,193.5 C165.77,192.92 166.73,192.9 167.7,192.5 C168.67,192.1 169.63,191 170.6,191 C171.53,191 172.47,192.5 173.4,192.5 C174.37,192.5 175.33,192.5 176.3,192.5 C177.27,192.5 178.23,197.3 179.2,197.3 C180.17,197.3 181.13,193.64 182.1,192.5 C182.93,191.52 183.77,190.2 184.6,190.2 C185.23,190.2 185.87,192.06 186.5,194.5 C187.13,196.94 187.77,219.4 188.4,219.4 C189.17,219.4 189.93,219.4 190.7,219.4 C191.33,219.4 191.97,217.5 192.6,215.6 C193.23,213.7 193.87,207 194.5,204.1 C195.3,200.44 196.1,195.4 196.9,195.4 C197.7,195.4 198.5,197.48 199.3,199.3 C200.4,201.8 201.5,210.05 202.6,212.7 C203.73,215.43 204.87,218.5 206,218.5 C206.8,218.5 207.6,213.6 208.4,209.8 C209.23,205.84 210.07,195.29 210.9,192.5 C211.83,189.38 212.77,186.4 213.7,186.4 C214.47,186.4 215.23,189.58 216,192.5 C216.83,195.68 217.67,206.58 218.5,209.8 C219.33,213.02 220.17,216.5 221,216.5 C221.77,216.5 222.53,214.25 223.3,211.7 C223.97,209.48 224.63,197.87 225.3,196.4 C226.07,194.71 226.83,194.16 227.6,193.5 C228.6,192.64 229.6,191.6 230.6,191.6 C231.37,191.6 232.13,202.64 232.9,206 C233.87,210.24 234.83,214.51 235.8,215.6 C236.2,216.05 236.6,216.5 237,216.5 C237.5,216.5 238,206.37 238.5,204.1 C239.13,201.22 239.77,200.52 240.4,198.3 C241.17,195.61 241.93,188.7 242.7,188.7 C243.47,188.7 244.23,191.74 245,193.5 C245.63,194.95 246.27,195.86 246.9,198.3 C247.53,200.74 248.17,211.39 248.8,213.7 C249.63,216.74 250.47,219.4 251.3,219.4 C251.93,219.4 252.57,212.5 253.2,207.9 C253.87,203.06 254.53,192.59 255.2,189.7 C256,186.23 256.8,183 257.6,183 C258.27,183 258.93,185.93 259.6,188.7 C260.23,191.33 260.87,197.86 261.5,203.1 C262.13,208.34 262.77,220.4 263.4,220.4 C264.03,220.4 264.67,217.73 265.3,215.6 C265.93,213.47 266.57,208.9 267.2,206 C267.97,202.48 268.73,196.9 269.5,196.4 C270.47,195.76 271.43,195.4 272.4,195.4 C273.03,195.4 273.67,198.26 274.3,200.3 C274.97,202.44 275.63,208.9 276.3,208.9 C276.93,208.9 277.57,206.9 278.2,206.9 C278.83,206.9 279.47,214.6 280.1,214.6 C280.73,214.6 281.37,208.87 282,206.9 C282.63,204.93 283.27,204.11 283.9,202.1 C284.57,199.98 285.23,193.5 285.9,193.5 C286.73,193.5 287.57,194.98 288.4,196.4 C289.03,197.48 289.67,200.21 290.3,202.1 C291.07,204.38 291.83,207.27 292.6,208.9 C293.37,210.53 294.13,212.7 294.9,212.7 C295.53,212.7 296.17,208.43 296.8,206 C297.63,202.8 298.47,198.83 299.3,195.4 C299.93,192.8 300.57,187.8 301.2,187.8 C301.67,187.8 302.13,190.56 302.6,192.5 C303.43,195.96 304.27,202.17 305.1,207" fill="none" stroke="#ED7D31" stroke-width="1.05" stroke-linejoin="round"/>
<line x1="63" y1="152.5" x2="314" y2="152.5" stroke="#111" stroke-width="1.05"/>
<line x1="63" y1="281" x2="314" y2="281" stroke="#666" stroke-width="2"/>
<line x1="63.5" y1="152" x2="63.5" y2="281" stroke="#111" stroke-width="1.05"/>
<line x1="313.5" y1="152" x2="313.5" y2="281" stroke="#111" stroke-width="1.05"/>
<line x1="354.8" y1="161.5" x2="552.6" y2="161.5" stroke="#D9D9D9" stroke-width="0.9"/>
<text x="347" y="164.8" text-anchor="end" class="t">1.1</text>
<line x1="354.8" y1="177.32" x2="552.6" y2="177.32" stroke="#D9D9D9" stroke-width="0.9"/>
<text x="347" y="180.62" text-anchor="end" class="t">1</text>
<line x1="354.8" y1="193.13" x2="552.6" y2="193.13" stroke="#D9D9D9" stroke-width="0.9"/>
<text x="347" y="196.43" text-anchor="end" class="t">0.9</text>
<line x1="354.8" y1="208.95" x2="552.6" y2="208.95" stroke="#D9D9D9" stroke-width="0.9"/>
<text x="347" y="212.25" text-anchor="end" class="t">0.8</text>
<line x1="354.8" y1="224.77" x2="552.6" y2="224.77" stroke="#D9D9D9" stroke-width="0.9"/>
<text x="347" y="228.07" text-anchor="end" class="t">0.7</text>
<line x1="354.8" y1="240.58" x2="552.6" y2="240.58" stroke="#D9D9D9" stroke-width="0.9"/>
<text x="347" y="243.88" text-anchor="end" class="t">0.6</text>
<line x1="354.8" y1="256.4" x2="552.6" y2="256.4" stroke="#D9D9D9" stroke-width="0.9"/>
<text x="347" y="259.7" text-anchor="end" class="t">0.5</text>
<text x="355.2" y="269.1" text-anchor="middle" class="t">0</text>
<text x="371.88" y="269.1" text-anchor="middle" class="t">31</text>
<text x="387.48" y="269.1" text-anchor="middle" class="t">60</text>
<text x="404.16" y="269.1" text-anchor="middle" class="t">91</text>
<text x="420.3" y="269.1" text-anchor="middle" class="t">121</text>
<text x="436.97" y="269.1" text-anchor="middle" class="t">152</text>
<text x="453.11" y="269.1" text-anchor="middle" class="t">182</text>
<text x="469.79" y="269.1" text-anchor="middle" class="t">213</text>
<text x="486.47" y="269.1" text-anchor="middle" class="t">244</text>
<text x="502.61" y="269.1" text-anchor="middle" class="t">274</text>
<text x="519.28" y="269.1" text-anchor="middle" class="t">305</text>
<text x="535.42" y="269.1" text-anchor="middle" class="t">335</text>
<text x="552.1" y="269.1" text-anchor="middle" class="t">366</text>
<text x="444.4" y="277.75" text-anchor="middle" class="b">Days</text>
<text transform="translate(333.5,210) rotate(-90)" text-anchor="middle" class="yt" style="font-size:8.5px">Service Level (%)</text>
<line x1="456.2" y1="249.3" x2="472.4" y2="249.3" stroke="#4472C4" stroke-width="1.1"/>
<line x1="501.3" y1="249.3" x2="517.6" y2="249.3" stroke="#ED7D31" stroke-width="1.1"/>
<text x="474.5" y="251.9" class="l">Rice</text>
<text x="519.8" y="251.9" class="l">Wheat</text>
<path d="M354.8,177.3 C360.23,177.3 365.67,177.3 371.1,177.3 C372.27,177.3 373.43,188.6 374.6,188.6 C376.63,188.6 378.67,188.6 380.7,188.6 C381.47,188.6 382.23,187.55 383,186.9 C383.83,186.19 384.67,184.4 385.5,184.4 C386.47,184.4 387.43,185.94 388.4,186.3 C390.3,187.01 392.2,187.7 394.1,187.7 C396.37,187.7 398.63,185.4 400.9,185.4 C403.43,185.4 405.97,185.4 408.5,185.4 C410.43,185.4 412.37,185 414.3,185 C414.93,185 415.57,188.48 416.2,191.1 C417.13,194.97 418.07,206.28 419,208.4 C419.67,209.91 420.33,211.3 421,211.3 C422,211.3 423,211.3 424,211.3 C424.93,211.3 425.87,212.16 426.8,213.2 C427.43,213.9 428.07,215.85 428.7,218 C429.67,221.28 430.63,232.73 431.6,234.3 C432.23,235.33 432.87,236.2 433.5,236.2 C435.43,236.2 437.37,236.2 439.3,236.2 C440.23,236.2 441.17,235.01 442.1,234.3 C443.07,233.57 444.03,231.8 445,231.8 C446.6,231.8 448.2,231.8 449.8,231.8 C450.53,231.8 451.27,231 452,230.5 C454,229.13 456,226.15 458,225.2 C459.5,224.49 461,224.29 462.5,223.7 C464,223.11 465.5,222.15 467,221.5 C469,220.64 471,219.56 473,219.2 C475,218.84 477,218.83 479,218.5 C481.5,218.08 484,216.66 486.5,216.2 C489,215.74 491.5,215.64 494,215.2 C497,214.67 500,213.49 503,212.8 C506,212.11 509,211.48 512,211 C515,210.52 518,210.24 521,209.8 C524,209.36 527,208.59 530,208.3 C533,208.01 536,207.92 539,207.7 C541,207.55 543,207.39 545,207.2 C547.23,206.99 549.47,206.73 551.7,206.5" fill="none" stroke="#4472C4" stroke-width="1.05" stroke-linejoin="round"/>
<path d="M354.8,177.3 C360.23,177.3 365.67,177.3 371.1,177.3 C372.27,177.3 373.43,188.6 374.6,188.6 C376.63,188.6 378.67,188.6 380.7,188.6 C381.47,188.6 382.23,187.55 383,186.9 C383.83,186.19 384.67,184.4 385.5,184.4 C386.13,184.4 386.77,186.33 387.4,186.9 C388.37,187.77 389.33,188.62 390.3,188.8 C391.57,189.04 392.83,189.2 394.1,189.2 C395.37,189.2 396.63,188.31 397.9,187.7 C398.9,187.22 399.9,185.9 400.9,185.9 C402.17,185.9 403.43,186.9 404.7,186.9 C405.97,186.9 407.23,186.57 408.5,186.3 C409.47,186.09 410.43,185.4 411.4,185.4 C412.37,185.4 413.33,185.49 414.3,185.7 C414.93,185.84 415.57,188.36 416.2,191.1 C416.83,193.84 417.47,205.54 418.1,208.4 C418.73,211.26 419.37,213.69 420,214.1 C420.97,214.73 421.93,215.1 422.9,215.1 C423.87,215.1 424.83,214.1 425.8,214.1 C426.43,214.1 427.07,215.54 427.7,217 C428.67,219.23 429.63,229.81 430.6,233.3 C431.57,236.79 432.53,241 433.5,241 C434.77,241 436.03,241 437.3,241 C438.27,241 439.23,239.94 440.2,239.1 C441.17,238.26 442.13,236.17 443.1,235.3 C444.07,234.43 445.03,233.53 446,233.3 C447.5,232.95 449,233.04 450.5,232.7 C451.67,232.44 452.83,231.44 454,230.5 C455.33,229.43 456.67,226.4 458,226 C460.5,225.24 463,225.41 465.5,224.8 C468.5,224.07 471.5,220.26 474.5,220 C476.5,219.83 478.5,219.88 480.5,219.7 C482.5,219.52 484.5,217.19 486.5,216.7 C489,216.08 491.5,215.99 494,215.5 C497,214.91 500,213.95 503,213.2 C506,212.45 509,211.52 512,211 C515,210.48 518,210.18 521,209.8 C524,209.42 527,209.05 530,208.7 C533,208.35 536,208.01 539,207.7 C543.23,207.27 547.47,206.9 551.7,206.5" fill="none" stroke="#ED7D31" stroke-width="1.05" stroke-linejoin="round"/>
<line x1="320" y1="153" x2="562" y2="153" stroke="#6e6e6e" stroke-width="2"/>
<line x1="320" y1="282.5" x2="562" y2="282.5" stroke="#111" stroke-width="1.05"/>
<line x1="320.5" y1="152" x2="320.5" y2="283" stroke="#111" stroke-width="1.05"/>
<line x1="561.5" y1="152" x2="561.5" y2="283" stroke="#111" stroke-width="1.05"/>
<line x1="601" y1="159.8" x2="789.7" y2="159.8" stroke="#D9D9D9" stroke-width="0.9"/>
<text x="594.2" y="162.7" text-anchor="end" class="t">50</text>
<line x1="601" y1="179.08" x2="789.7" y2="179.08" stroke="#D9D9D9" stroke-width="0.9"/>
<text x="594.2" y="181.98" text-anchor="end" class="t">40</text>
<line x1="601" y1="198.36" x2="789.7" y2="198.36" stroke="#D9D9D9" stroke-width="0.9"/>
<text x="594.2" y="201.26" text-anchor="end" class="t">30</text>
<line x1="601" y1="217.64" x2="789.7" y2="217.64" stroke="#D9D9D9" stroke-width="0.9"/>
<text x="594.2" y="220.54" text-anchor="end" class="t">20</text>
<line x1="601" y1="236.92" x2="789.7" y2="236.92" stroke="#D9D9D9" stroke-width="0.9"/>
<text x="594.2" y="239.82" text-anchor="end" class="t">10</text>
<line x1="601" y1="256.2" x2="789.7" y2="256.2" stroke="#D9D9D9" stroke-width="0.9"/>
<text x="594.2" y="259.1" text-anchor="end" class="t">0</text>
<text x="600.9" y="269.1" text-anchor="middle" class="t">0</text>
<text x="616.94" y="269.1" text-anchor="middle" class="t">31</text>
<text x="631.95" y="269.1" text-anchor="middle" class="t">60</text>
<text x="647.99" y="269.1" text-anchor="middle" class="t">91</text>
<text x="663.52" y="269.1" text-anchor="middle" class="t">121</text>
<text x="679.56" y="269.1" text-anchor="middle" class="t">152</text>
<text x="695.08" y="269.1" text-anchor="middle" class="t">182</text>
<text x="711.12" y="269.1" text-anchor="middle" class="t">213</text>
<text x="727.17" y="269.1" text-anchor="middle" class="t">244</text>
<text x="742.69" y="269.1" text-anchor="middle" class="t">274</text>
<text x="758.73" y="269.1" text-anchor="middle" class="t">305</text>
<text x="774.26" y="269.1" text-anchor="middle" class="t">335</text>
<text x="790.3" y="269.1" text-anchor="middle" class="t">366</text>
<text x="689.9" y="278.25" text-anchor="middle" class="b">Days</text>
<text transform="translate(580.5,213) rotate(-90)" text-anchor="middle" class="yt" style="font-size:8.1px">Numbers of Truck</text>
<line x1="688.3" y1="247.5" x2="705.3" y2="247.5" stroke="#4472C4" stroke-width="1.1"/>
<line x1="739.9" y1="247.5" x2="755.9" y2="247.5" stroke="#ED7D31" stroke-width="1.1"/>
<text x="707.2" y="250.7" class="l">Truck 1</text>
<text x="758.1" y="250.7" class="l">Truck 2</text>
<path d="M601.2,255.9 C605.43,255.9 609.67,255.9 613.9,255.9 C614.87,255.9 615.83,241.28 616.8,234.3 C617.77,227.32 618.73,214 619.7,214 C620.73,214 621.77,216.1 622.8,217.6 C624,219.34 625.2,224.7 626.4,224.7 C627.2,224.7 628,224.7 628.8,224.7 C629.43,224.7 630.07,219.52 630.7,217.6 C631.67,214.68 632.63,210.4 633.6,210.4 C634.4,210.4 635.2,211.09 636,211.6 C637.6,212.63 639.2,216.4 640.8,216.4 C642.4,216.4 644,208.55 645.6,208 C646.4,207.73 647.2,207.5 648,207.5 C650.4,207.5 652.8,211.6 655.2,211.6 C657.2,211.6 659.2,203.9 661.2,203.9 C663.97,203.9 666.73,208.24 669.5,208.7 C671.1,208.97 672.7,208.96 674.3,209.2 C675.9,209.44 677.5,209.94 679.1,210.4 C680.3,210.75 681.5,211.6 682.7,211.6 C683.9,211.6 685.1,207.63 686.3,205.6 C687.1,204.25 687.9,201.5 688.7,201.5 C690.3,201.5 691.9,202.7 693.5,202.7 C694.7,202.7 695.9,200.71 697.1,199.6 C697.97,198.79 698.83,197.75 699.7,197 C700.8,196.05 701.9,194.5 703,194.5 C704.6,194.5 706.2,195.5 707.8,195.5 C708.87,195.5 709.93,195.02 711,194.5 C712.1,193.96 713.2,191.2 714.3,190.8 C715.9,190.21 717.5,189.8 719.1,189.8 C720.2,189.8 721.3,190.8 722.4,190.8 C723.47,190.8 724.53,188.42 725.6,187.6 C726.67,186.78 727.73,185.6 728.8,185.6 C730.97,185.6 733.13,186.6 735.3,186.6 C736.93,186.6 738.57,184.37 740.2,183.5 C741.27,182.93 742.33,182 743.4,182 C745.03,182 746.67,183 748.3,183 C749.9,183 751.5,181.34 753.1,181 C754.73,180.65 756.37,180.3 758,180.3 C759.6,180.3 761.2,180.3 762.8,180.3 C764.43,180.3 766.07,179.04 767.7,178.8 C769.83,178.49 771.97,178.45 774.1,178.2 C776.27,177.95 778.43,177.66 780.6,177.2 C782.23,176.85 783.87,175.6 785.5,175.6 C786.9,175.6 788.3,176 789.7,176.2" fill="none" stroke="#4472C4" stroke-width="1.05" stroke-linejoin="round"/>
<path d="M601.2,255.9 C605.43,255.9 609.67,255.9 613.9,255.9 C614.7,255.9 615.5,236.06 616.3,229.5 C617.27,221.58 618.23,210.8 619.2,210.8 C620.4,210.8 621.6,215.49 622.8,217.6 C624,219.71 625.2,222.82 626.4,223.5 C627.03,223.86 627.67,224.2 628.3,224.2 C628.87,224.2 629.43,218.83 630,216.4 C630.8,212.97 631.6,206.8 632.4,206.8 C633.6,206.8 634.8,209.2 636,210.4 C637.6,212 639.2,215.2 640.8,215.2 C641.6,215.2 642.4,214.67 643.2,214 C644,213.33 644.8,208.31 645.6,208 C646.4,207.69 647.2,207.5 648,207.5 C649.2,207.5 650.4,208.54 651.6,209.2 C652.8,209.86 654,211.6 655.2,211.6 C656.4,211.6 657.6,208.16 658.8,206.8 C659.6,205.89 660.4,204.4 661.2,204.4 C662.37,204.4 663.53,206.12 664.7,206.8 C666.3,207.73 667.9,208.84 669.5,209.2 C671.1,209.56 672.7,209.68 674.3,209.9 C675.53,210.07 676.77,210.14 678,210.4 C679.57,210.73 681.13,212.8 682.7,212.8 C683.9,212.8 685.1,208.83 686.3,206.8 C687.1,205.45 687.9,203.63 688.7,202.7 C689.13,202.2 689.57,201.5 690,201.5 C691.63,201.5 693.27,203.4 694.9,203.4 C696.5,203.4 698.1,198.44 699.7,197 C700.8,196.01 701.9,194.7 703,194.7 C704.6,194.7 706.2,196 707.8,196 C708.87,196 709.93,195.69 711,195.3 C712.1,194.9 713.2,191.77 714.3,191.4 C715.9,190.86 717.5,190.5 719.1,190.5 C720.2,190.5 721.3,191.4 722.4,191.4 C723.47,191.4 724.53,189.02 725.6,188.2 C726.67,187.38 727.73,186.2 728.8,186.2 C730.97,186.2 733.13,187.2 735.3,187.2 C736.93,187.2 738.57,184.92 740.2,184 C741.27,183.4 742.33,182.4 743.4,182.4 C745.03,182.4 746.67,183.3 748.3,183.3 C749.9,183.3 751.5,181.74 753.1,181.4 C754.73,181.06 756.37,180.7 758,180.7 C759.6,180.7 761.2,180.7 762.8,180.7 C764.43,180.7 766.07,179.34 767.7,179.1 C769.83,178.78 771.97,178.75 774.1,178.5 C776.27,178.25 778.43,177.96 780.6,177.5 C782.23,177.15 783.87,175.9 785.5,175.9 C786.9,175.9 788.3,176.3 789.7,176.5" fill="none" stroke="#ED7D31" stroke-width="1.05" stroke-linejoin="round"/>
<line x1="568" y1="153" x2="798" y2="153" stroke="#6e6e6e" stroke-width="2"/>
<line x1="568" y1="282.5" x2="798" y2="282.5" stroke="#111" stroke-width="1.05"/>
<line x1="568.5" y1="153" x2="568.5" y2="283" stroke="#111" stroke-width="1.05"/>
<line x1="797.5" y1="153" x2="797.5" y2="283" stroke="#111" stroke-width="1.05"/>
<line x1="99.5" y1="291.6" x2="306" y2="291.6" stroke="#D9D9D9" stroke-width="0.9"/>
<text x="92" y="294.5" text-anchor="end" class="t">70</text>
<line x1="99.5" y1="305.29" x2="306" y2="305.29" stroke="#D9D9D9" stroke-width="0.9"/>
<text x="92" y="308.19" text-anchor="end" class="t">60</text>
<line x1="99.5" y1="318.97" x2="306" y2="318.97" stroke="#D9D9D9" stroke-width="0.9"/>
<text x="92" y="321.87" text-anchor="end" class="t">50</text>
<line x1="99.5" y1="332.66" x2="306" y2="332.66" stroke="#D9D9D9" stroke-width="0.9"/>
<text x="92" y="335.56" text-anchor="end" class="t">40</text>
<line x1="99.5" y1="346.34" x2="306" y2="346.34" stroke="#D9D9D9" stroke-width="0.9"/>
<text x="92" y="349.24" text-anchor="end" class="t">30</text>
<line x1="99.5" y1="360.03" x2="306" y2="360.03" stroke="#D9D9D9" stroke-width="0.9"/>
<text x="92" y="362.93" text-anchor="end" class="t">20</text>
<line x1="99.5" y1="373.71" x2="306" y2="373.71" stroke="#D9D9D9" stroke-width="0.9"/>
<text x="92" y="376.61" text-anchor="end" class="t">10</text>
<line x1="99.5" y1="387.4" x2="306" y2="387.4" stroke="#D9D9D9" stroke-width="0.9"/>
<text x="92" y="390.3" text-anchor="end" class="t">0</text>
<text x="100.5" y="400.8" text-anchor="middle" class="t">0</text>
<text x="117.91" y="400.8" text-anchor="middle" class="t">31</text>
<text x="134.2" y="400.8" text-anchor="middle" class="t">60</text>
<text x="151.62" y="400.8" text-anchor="middle" class="t">91</text>
<text x="168.47" y="400.8" text-anchor="middle" class="t">121</text>
<text x="185.89" y="400.8" text-anchor="middle" class="t">152</text>
<text x="202.74" y="400.8" text-anchor="middle" class="t">182</text>
<text x="220.15" y="400.8" text-anchor="middle" class="t">213</text>
<text x="237.57" y="400.8" text-anchor="middle" class="t">244</text>
<text x="254.42" y="400.8" text-anchor="middle" class="t">274</text>
<text x="271.83" y="400.8" text-anchor="middle" class="t">305</text>
<text x="288.69" y="400.8" text-anchor="middle" class="t">335</text>
<text x="306.1" y="400.8" text-anchor="middle" class="t">366</text>
<text x="193.4" y="411.75" text-anchor="middle" class="b">Days</text>
<text transform="translate(77,344.2) rotate(-90)" text-anchor="middle" class="yt" style="font-size:8.5px">Million Kilograms</text>
<line x1="209.2" y1="383.5" x2="226" y2="383.5" stroke="#4472C4" stroke-width="1.1"/>
<line x1="259" y1="383.5" x2="275.5" y2="383.5" stroke="#ED7D31" stroke-width="1.1"/>
<text x="227.5" y="386.1" class="l">Rice</text>
<text x="277.3" y="386.1" class="l">Wheat</text>
<path d="M99.5,331.2 C103.8,331.2 108.1,331.2 112.4,331.2 C113.03,331.2 113.67,351.3 114.3,351.3 C114.77,351.3 115.23,346.44 115.7,343.7 C116.2,340.77 116.7,338.36 117.2,334.1 C117.97,327.57 118.73,308.32 119.5,302.4 C119.87,299.57 120.23,296.1 120.6,296.1 C122.53,296.1 124.47,296.1 126.4,296.1 C127.03,296.1 127.67,306.29 128.3,313 C128.93,319.71 129.57,337.9 130.2,337.9 C130.87,337.9 131.53,327.41 132.2,325.4 C132.83,323.49 133.47,323.63 134.1,321.6 C134.73,319.57 135.37,306.2 136,306.2 C137.4,306.2 138.8,306.2 140.2,306.2 C141.17,306.2 142.13,313.64 143.1,316.8 C143.73,318.87 144.37,320.32 145,322.5 C145.63,324.68 146.27,330.2 146.9,330.2 C147.57,330.2 148.23,322.28 148.9,318.7 C149.53,315.3 150.17,311.48 150.8,309.1 C151.43,306.72 152.07,303.4 152.7,303.4 C153.33,303.4 153.97,304.61 154.6,306.2 C155.23,307.79 155.87,318.26 156.5,322.5 C157.33,328.08 158.17,336 159,336 C159.33,336 159.67,331.59 160,329.3 C160.77,324.04 161.53,314.61 162.3,313 C162.93,311.67 163.57,311.3 164.2,310.6 C165.03,309.69 165.87,309.19 166.7,308.2 C167.33,307.45 167.97,305.3 168.6,305.3 C169.27,305.3 169.93,307.2 170.6,307.2 C171.23,307.2 171.87,305.3 172.5,305.3 C173.33,305.3 174.17,305.7 175,306.2 C175.77,306.66 176.53,308.53 177.3,310.1 C177.93,311.39 178.57,314.9 179.2,314.9 C179.83,314.9 180.47,309.23 181.1,308.2 C181.73,307.17 182.37,306.2 183,306.2 C183.67,306.2 184.33,307.51 185,309.1 C185.63,310.61 186.27,318.42 186.9,321.6 C187.53,324.78 188.17,326.6 188.8,329.3 C189.3,331.43 189.8,336 190.3,336 C190.93,336 191.57,334.56 192.2,333.1 C192.87,331.56 193.53,326.93 194.2,323.5 C194.83,320.24 195.47,316.47 196.1,313 C196.87,308.8 197.63,300.5 198.4,300.5 C199.03,300.5 199.67,303.65 200.3,306.2 C200.93,308.75 201.57,314.51 202.2,317.8 C202.83,321.09 203.47,323.12 204.1,326.4 C204.63,329.16 205.17,336 205.7,336 C206.33,336 206.97,328.14 207.6,325.4 C208.23,322.66 208.87,321.09 209.5,318.7 C210.13,316.31 210.77,313.16 211.4,311 C212.17,308.39 212.93,304.3 213.7,304.3 C214.47,304.3 215.23,307.8 216,312 C216.53,314.92 217.07,329.08 217.6,332.1 C218.23,335.69 218.87,338.9 219.5,338.9 C220.13,338.9 220.77,337.35 221.4,336 C222.03,334.65 222.67,331.98 223.3,329.3 C223.97,326.48 224.63,322.31 225.3,318.7 C225.93,315.27 226.57,308.2 227.2,308.2 C227.97,308.2 228.73,309.03 229.5,310.1 C230.13,310.99 230.77,314.73 231.4,317.8 C232.03,320.87 232.67,327.04 233.3,329.3 C233.93,331.56 234.57,334.1 235.2,334.1 C235.63,334.1 236.07,327.57 236.5,324.5 C237.17,319.78 237.83,312.15 238.5,311 C239.13,309.9 239.77,309.87 240.4,309.1 C241.03,308.33 241.67,306.2 242.3,306.2 C242.93,306.2 243.57,307.7 244.2,309.1 C244.83,310.5 245.47,313.79 246.1,316.8 C246.77,319.96 247.43,328.3 248.1,328.3 C248.73,328.3 249.37,324.5 250,324.5 C250.63,324.5 251.27,339.8 251.9,339.8 C252.53,339.8 253.17,318.97 253.8,316.8 C254.43,314.63 255.07,313.53 255.7,313 C256.33,312.47 256.97,312 257.6,312 C258.27,312 258.93,314.86 259.6,316.8 C260.37,319.03 261.13,322.41 261.9,325.4 C262.53,327.87 263.17,333.1 263.8,333.1 C264.43,333.1 265.07,327.3 265.7,327.3 C266.33,327.3 266.97,332.1 267.6,332.1 C268.23,332.1 268.87,327.4 269.5,325.4 C270.17,323.3 270.83,322.18 271.5,319.7 C272,317.84 272.5,313.85 273,312 C273.43,310.4 273.87,308.2 274.3,308.2 C274.77,308.2 275.23,310.75 275.7,313 C276.2,315.41 276.7,320.96 277.2,325.4 C277.83,331.02 278.47,343.7 279.1,343.7 C279.77,343.7 280.43,331.35 281.1,330.2 C281.73,329.1 282.37,329.29 283,328.3 C283.63,327.31 284.27,324.38 284.9,321.6 C285.53,318.82 286.17,310.6 286.8,310.6 C287.43,310.6 288.07,311.33 288.7,312 C289.37,312.71 290.03,315.25 290.7,315.8 C291.33,316.32 291.97,316.14 292.6,316.8 C293.1,317.32 293.6,332.1 294.1,332.1 C294.73,332.1 295.37,328.68 296,327.3 C296.67,325.85 297.33,323.5 298,323.5 C298.63,323.5 299.27,328.3 299.9,328.3 C300.33,328.3 300.77,322.36 301.2,321.6 C301.83,320.49 302.47,320.64 303.1,319.7 C303.77,318.71 304.43,315.83 305.1,313.9" fill="none" stroke="#4472C4" stroke-width="1.05" stroke-linejoin="round"/>
<path d="M99.5,338.3 C103.8,338.3 108.1,338.3 112.4,338.3 C113.23,338.3 114.07,350.02 114.9,353.3 C115.53,355.8 116.17,359 116.8,359 C117.43,359 118.07,345.97 118.7,337.9 C119.33,329.83 119.97,309.5 120.6,309.5 C122.53,309.5 124.47,309.5 126.4,309.5 C127.03,309.5 127.67,315.26 128.3,320.6 C128.93,325.94 129.57,349.4 130.2,349.4 C130.97,349.4 131.73,343.86 132.5,340.8 C133.47,336.94 134.43,329.18 135.4,328.3 C136.7,327.12 138,326.4 139.3,326.4 C140.23,326.4 141.17,328.21 142.1,330.2 C142.77,331.62 143.43,336.59 144.1,338.9 C144.6,340.64 145.1,343.3 145.6,343.3 C146.23,343.3 146.87,333.3 147.5,330.2 C148.27,326.45 149.03,324.15 149.8,321.6 C150.77,318.39 151.73,313 152.7,313 C153.53,313 154.37,315.18 155.2,317.8 C155.83,319.79 156.47,328.34 157.1,332.1 C157.73,335.86 158.37,341.4 159,341.4 C159.33,341.4 159.67,339.51 160,337.9 C160.77,334.19 161.53,316.34 162.3,315.8 C163.13,315.21 163.97,315.35 164.8,314.9 C165.43,314.56 166.07,313 166.7,313 C167.67,313 168.63,314.9 169.6,314.9 C170.57,314.9 171.53,313.9 172.5,313.9 C173.47,313.9 174.43,314.39 175.4,314.9 C176.03,315.24 176.67,315.74 177.3,316.8 C177.93,317.86 178.57,326.4 179.2,326.4 C179.83,326.4 180.47,323.35 181.1,321.6 C181.73,319.85 182.37,315.8 183,315.8 C183.67,315.8 184.33,316.16 185,316.8 C185.63,317.4 186.27,328.39 186.9,334.1 C187.4,338.61 187.9,347.5 188.4,347.5 C189.03,347.5 189.67,343.51 190.3,341.7 C190.77,340.36 191.23,339.36 191.7,337.9 C192.53,335.29 193.37,331.06 194.2,328.3 C194.97,325.76 195.73,323.41 196.5,321.6 C197.13,320.11 197.77,317.8 198.4,317.8 C199.17,317.8 199.93,322.19 200.7,325.4 C201.33,328.05 201.97,332.83 202.6,336 C203.23,339.17 203.87,344.6 204.5,344.6 C205.33,344.6 206.17,343.77 207,342.7 C207.83,341.63 208.67,335.61 209.5,332.1 C210.27,328.88 211.03,325.52 211.8,322.5 C212.57,319.48 213.33,313.9 214.1,313.9 C214.73,313.9 215.37,319.86 216,323.5 C216.53,326.57 217.07,331.53 217.6,334.1 C218.57,338.76 219.53,344.6 220.5,344.6 C221.13,344.6 221.77,341.54 222.4,339.8 C223.03,338.06 223.67,336.4 224.3,334.1 C224.93,331.8 225.57,327.46 226.2,325.4 C226.83,323.34 227.47,320.6 228.1,320.6 C228.93,320.6 229.77,321.92 230.6,323.5 C231.37,324.96 232.13,333.91 232.9,335 C233.67,336.09 234.43,335.74 235.2,336.9 C235.77,337.76 236.33,347.5 236.9,347.5 C237.53,347.5 238.17,342.99 238.8,339.8 C239.47,336.44 240.13,330.33 240.8,326.4 C241.43,322.67 242.07,316.4 242.7,316.4 C243.33,316.4 243.97,319.59 244.6,322.5 C245.23,325.41 245.87,336.77 246.5,337.9 C247.13,339.03 247.77,339.8 248.4,339.8 C249.07,339.8 249.73,336.9 250.4,336.9 C251.03,336.9 251.67,345.6 252.3,345.6 C252.93,345.6 253.57,338.17 254.2,335 C254.83,331.83 255.47,328.45 256.1,326.4 C256.73,324.35 257.37,321.6 258,321.6 C258.67,321.6 259.33,323.43 260,325.4 C260.63,327.28 261.27,334.03 261.9,337.9 C262.4,340.96 262.9,346.5 263.4,346.5 C264.03,346.5 264.67,339.8 265.3,339.8 C265.77,339.8 266.23,346.5 266.7,346.5 C267.33,346.5 267.97,340.77 268.6,337.9 C269.23,335.03 269.87,331.48 270.5,329.3 C271.33,326.44 272.17,322.5 273,322.5 C273.77,322.5 274.53,325.95 275.3,327.3 C275.93,328.41 276.57,328.68 277.2,330.2 C277.83,331.72 278.47,340.8 279.1,340.8 C279.77,340.8 280.43,336.8 281.1,335 C281.73,333.29 282.37,332.3 283,330.2 C283.77,327.65 284.53,318.7 285.3,318.7 C286.13,318.7 286.97,320.32 287.8,321.6 C288.77,323.08 289.73,325.73 290.7,328.3 C291.33,329.98 291.97,332.19 292.6,334.1 C293.57,337.01 294.53,342.7 295.5,342.7 C296.13,342.7 296.77,339.11 297.4,337.9 C298.03,336.69 298.67,336.54 299.3,335 C299.93,333.46 300.57,323.5 301.2,323.5 C301.83,323.5 302.47,325.98 303.1,328.3 C303.57,330.01 304.03,337 304.5,337 C304.87,337 305.23,337 305.6,337" fill="none" stroke="#ED7D31" stroke-width="1.05" stroke-linejoin="round"/>
<line x1="63" y1="285.5" x2="314" y2="285.5" stroke="#111" stroke-width="1.05"/>
<line x1="63" y1="414.5" x2="314" y2="414.5" stroke="#111" stroke-width="1.05"/>
<line x1="63.5" y1="285" x2="63.5" y2="415" stroke="#111" stroke-width="1.05"/>
<line x1="313.5" y1="285" x2="313.5" y2="415" stroke="#111" stroke-width="1.05"/>
<line x1="357" y1="293.8" x2="555.4" y2="293.8" stroke="#D9D9D9" stroke-width="0.9"/>
<text x="349.4" y="297.1" text-anchor="end" class="t">1.1</text>
<line x1="357" y1="309.43" x2="555.4" y2="309.43" stroke="#D9D9D9" stroke-width="0.9"/>
<text x="349.4" y="312.73" text-anchor="end" class="t">1</text>
<line x1="357" y1="325.07" x2="555.4" y2="325.07" stroke="#D9D9D9" stroke-width="0.9"/>
<text x="349.4" y="328.37" text-anchor="end" class="t">0.9</text>
<line x1="357" y1="340.7" x2="555.4" y2="340.7" stroke="#D9D9D9" stroke-width="0.9"/>
<text x="349.4" y="344" text-anchor="end" class="t">0.8</text>
<line x1="357" y1="356.33" x2="555.4" y2="356.33" stroke="#D9D9D9" stroke-width="0.9"/>
<text x="349.4" y="359.63" text-anchor="end" class="t">0.7</text>
<line x1="357" y1="371.97" x2="555.4" y2="371.97" stroke="#D9D9D9" stroke-width="0.9"/>
<text x="349.4" y="375.27" text-anchor="end" class="t">0.6</text>
<line x1="357" y1="387.6" x2="555.4" y2="387.6" stroke="#D9D9D9" stroke-width="0.9"/>
<text x="349.4" y="390.9" text-anchor="end" class="t">0.5</text>
<text x="357.2" y="401" text-anchor="middle" class="t">0</text>
<text x="373.93" y="401" text-anchor="middle" class="t">31</text>
<text x="389.58" y="401" text-anchor="middle" class="t">60</text>
<text x="406.31" y="401" text-anchor="middle" class="t">91</text>
<text x="422.49" y="401" text-anchor="middle" class="t">121</text>
<text x="439.22" y="401" text-anchor="middle" class="t">152</text>
<text x="455.41" y="401" text-anchor="middle" class="t">182</text>
<text x="472.14" y="401" text-anchor="middle" class="t">213</text>
<text x="488.87" y="401" text-anchor="middle" class="t">244</text>
<text x="505.06" y="401" text-anchor="middle" class="t">274</text>
<text x="521.78" y="401" text-anchor="middle" class="t">305</text>
<text x="537.97" y="401" text-anchor="middle" class="t">335</text>
<text x="554.7" y="401" text-anchor="middle" class="t">366</text>
<text x="447.5" y="411.75" text-anchor="middle" class="b">Days</text>
<text transform="translate(334,342.7) rotate(-90)" text-anchor="middle" class="yt" style="font-size:8.5px">Service Level (%)</text>
<line x1="460.7" y1="378.3" x2="477" y2="378.3" stroke="#4472C4" stroke-width="1.1"/>
<line x1="504.9" y1="378.3" x2="521.5" y2="378.3" stroke="#ED7D31" stroke-width="1.1"/>
<text x="478.7" y="380.9" class="l">Rice</text>
<text x="523.5" y="380.9" class="l">Wheat</text>
<path d="M356.9,309.2 C362.33,309.2 367.77,309.2 373.2,309.2 C374.3,309.2 375.4,314.4 376.5,314.4 C378.93,314.4 381.37,314.4 383.8,314.4 C384.77,314.4 385.73,313 386.7,313 C387.33,313 387.97,314.25 388.6,314.4 C390.2,314.78 391.8,315 393.4,315 C395.97,315 398.53,314.4 401.1,314.4 C402.7,314.4 404.3,314.84 405.9,315 C407.5,315.16 409.1,315.4 410.7,315.4 C412.6,315.4 414.5,314.4 416.4,314.4 C417.03,314.4 417.67,318.34 418.3,321.1 C419.27,325.31 420.23,336.54 421.2,338.4 C421.83,339.62 422.47,340.7 423.1,340.7 C424.4,340.7 425.7,340.7 427,340.7 C427.97,340.7 428.93,342.82 429.9,345.1 C430.53,346.59 431.17,351.12 431.8,353.7 C432.77,357.64 433.73,363.51 434.7,364.3 C435.63,365.07 436.57,365.6 437.5,365.6 C438.8,365.6 440.1,365.46 441.4,365.2 C442.37,365.01 443.33,362.68 444.3,361.4 C445.27,360.12 446.23,357.72 447.2,357.5 C449.37,357.02 451.53,357.23 453.7,356.8 C455.3,356.48 456.9,354.03 458.5,353 C460.1,351.97 461.7,350.4 463.3,350.4 C464.9,350.4 466.5,351 468.1,351 C470.23,351 472.37,347.94 474.5,347.2 C476.67,346.45 478.83,346.08 481,345.6 C483.67,345.01 486.33,344.48 489,344 C491.67,343.52 494.33,343.21 497,342.7 C499.67,342.19 502.33,341.07 505,340.8 C508.77,340.42 512.53,340.45 516.3,340.1 C520.57,339.7 524.83,338.25 529.1,337.6 C533.4,336.95 537.7,336.55 542,336 C546.03,335.48 550.07,334.93 554.1,334.4" fill="none" stroke="#4472C4" stroke-width="1.05" stroke-linejoin="round"/>
<path d="M356.9,309.2 C362.53,309.2 368.17,309.2 373.8,309.2 C374.9,309.2 376,316.71 377.1,316.9 C378.7,317.17 380.3,317.3 381.9,317.3 C383.17,317.3 384.43,315.67 385.7,315.4 C386.67,315.2 387.63,315.08 388.6,315 C392.77,314.67 396.93,314.4 401.1,314.4 C402.7,314.4 404.3,315.7 405.9,315.7 C407.5,315.7 409.1,315.7 410.7,315.7 C412.6,315.7 414.5,315 416.4,315 C417.03,315 417.67,319.13 418.3,322.1 C419.27,326.63 420.23,339.27 421.2,341.3 C421.83,342.63 422.47,343.71 423.1,343.8 C424.7,344.02 426.3,343.88 427.9,344.1 C428.67,344.2 429.43,346.04 430.2,348 C431.03,350.13 431.87,358.32 432.7,361.4 C433.67,364.98 434.63,369.25 435.6,369.5 C436.9,369.83 438.2,370 439.5,370 C440.77,370 442.03,368.29 443.3,367.2 C444.57,366.11 445.83,364.14 447.1,363.3 C448.17,362.59 449.23,362.16 450.3,361.7 C451.8,361.05 453.3,360.76 454.8,360 C457.1,358.84 459.4,355.04 461.7,354.3 C463.83,353.61 465.97,353.66 468.1,353 C470.23,352.34 472.37,349.56 474.5,348.8 C476.67,348.02 478.83,347.8 481,347.2 C483.67,346.46 486.33,345.26 489,344.6 C492.73,343.67 496.47,343.07 500.2,342.4 C503.4,341.82 506.6,341.33 509.8,340.8 C516.23,339.73 522.67,338.53 529.1,337.6 C537.43,336.39 545.77,335.47 554.1,334.4" fill="none" stroke="#ED7D31" stroke-width="1.05" stroke-linejoin="round"/>
<line x1="320" y1="286.5" x2="562" y2="286.5" stroke="#111" stroke-width="1.05"/>
<line x1="320" y1="415.5" x2="562" y2="415.5" stroke="#111" stroke-width="1.05"/>
<line x1="320.5" y1="286" x2="320.5" y2="416" stroke="#111" stroke-width="1.05"/>
<line x1="562" y1="286" x2="562" y2="416" stroke="#666" stroke-width="2"/>
<line x1="599.7" y1="293.4" x2="791.6" y2="293.4" stroke="#D9D9D9" stroke-width="0.9"/>
<text x="592" y="296.3" text-anchor="end" class="t">40</text>
<line x1="599.7" y1="317.35" x2="791.6" y2="317.35" stroke="#D9D9D9" stroke-width="0.9"/>
<text x="592" y="320.25" text-anchor="end" class="t">30</text>
<line x1="599.7" y1="341.3" x2="791.6" y2="341.3" stroke="#D9D9D9" stroke-width="0.9"/>
<text x="592" y="344.2" text-anchor="end" class="t">20</text>
<line x1="599.7" y1="365.25" x2="791.6" y2="365.25" stroke="#D9D9D9" stroke-width="0.9"/>
<text x="592" y="368.15" text-anchor="end" class="t">10</text>
<line x1="599.7" y1="389.2" x2="791.6" y2="389.2" stroke="#D9D9D9" stroke-width="0.9"/>
<text x="592" y="392.1" text-anchor="end" class="t">0</text>
<text x="599.5" y="401.6" text-anchor="middle" class="t">0</text>
<text x="615.83" y="401.6" text-anchor="middle" class="t">31</text>
<text x="631.11" y="401.6" text-anchor="middle" class="t">60</text>
<text x="647.44" y="401.6" text-anchor="middle" class="t">91</text>
<text x="663.24" y="401.6" text-anchor="middle" class="t">121</text>
<text x="679.57" y="401.6" text-anchor="middle" class="t">152</text>
<text x="695.37" y="401.6" text-anchor="middle" class="t">182</text>
<text x="711.7" y="401.6" text-anchor="middle" class="t">213</text>
<text x="728.03" y="401.6" text-anchor="middle" class="t">244</text>
<text x="743.84" y="401.6" text-anchor="middle" class="t">274</text>
<text x="760.17" y="401.6" text-anchor="middle" class="t">305</text>
<text x="775.97" y="401.6" text-anchor="middle" class="t">335</text>
<text x="792.3" y="401.6" text-anchor="middle" class="t">366</text>
<text x="688.5" y="411.75" text-anchor="middle" class="b">Days</text>
<text transform="translate(580.5,344) rotate(-90)" text-anchor="middle" class="yt" style="font-size:8.4px">Numbers of Truck</text>
<line x1="693.5" y1="383.1" x2="710.3" y2="383.1" stroke="#4472C4" stroke-width="1.1"/>
<line x1="747" y1="383.1" x2="763.9" y2="383.1" stroke="#ED7D31" stroke-width="1.1"/>
<text x="711.8" y="385.7" class="l">Truck 1</text>
<text x="765.3" y="385.7" class="l">Truck 2</text>
<path d="M599.5,389.3 C603.67,389.3 607.83,389.3 612,389.3 C613.03,389.3 614.07,374.93 615.1,367.6 C616.17,360.04 617.23,344.6 618.3,344.6 C619.33,344.6 620.37,348.26 621.4,349.8 C623,352.18 624.6,356.1 626.2,356.1 C627.03,356.1 627.87,349.44 628.7,346.7 C629.53,343.96 630.37,339.4 631.2,339.4 C632.47,339.4 633.73,342.57 635,343.6 C636.4,344.74 637.8,346.3 639.2,346.3 C640.23,346.3 641.27,345.75 642.3,345 C643.33,344.25 644.37,336.7 645.4,336.7 C646.47,336.7 647.53,337.42 648.6,338 C649.97,338.74 651.33,341.5 652.7,341.5 C653.77,341.5 654.83,337.21 655.9,336.3 C657.13,335.25 658.37,334.2 659.6,334.2 C661.07,334.2 662.53,335.96 664,337.3 C664.27,337.54 664.53,338.02 664.8,338.2 C666.4,339.26 668,339.76 669.6,340.1 C671.2,340.44 672.8,340.48 674.4,340.8 C676.03,341.13 677.67,342.4 679.3,342.4 C680.37,342.4 681.43,340.41 682.5,339.2 C684.1,337.39 685.7,334.25 687.3,332.8 C688.03,332.13 688.77,331.2 689.5,331.2 C690.37,331.2 691.23,332.8 692.1,332.8 C693.17,332.8 694.23,332.8 695.3,332.8 C696.37,332.8 697.43,330.89 698.5,329.6 C699.57,328.31 700.63,324.7 701.7,324.7 C702.77,324.7 703.83,324.7 704.9,324.7 C706.53,324.7 708.17,325.4 709.8,325.4 C710.87,325.4 711.93,322.44 713,321.5 C714.07,320.56 715.13,319.3 716.2,319.3 C717.8,319.3 719.4,319.61 721,319.9 C722.07,320.1 723.13,320.9 724.2,320.9 C725.8,320.9 727.4,316.06 729,315.7 C730.6,315.34 732.2,315.1 733.8,315.1 C735.43,315.1 737.07,316.1 738.7,316.1 C740.3,316.1 741.9,312.84 743.5,312.5 C745.1,312.16 746.7,311.9 748.3,311.9 C749.9,311.9 751.5,312.5 753.1,312.5 C754.7,312.5 756.3,309.3 757.9,309.3 C759.5,309.3 761.1,309.3 762.7,309.3 C764.3,309.3 765.9,309.02 767.5,308.7 C769.13,308.38 770.77,306.4 772.4,306.4 C774,306.4 775.6,307.1 777.2,307.1 C778.8,307.1 780.4,306.48 782,306.1 C783.6,305.72 785.2,304.8 786.8,304.8 C788.4,304.8 790,305.27 791.6,305.5" fill="none" stroke="#4472C4" stroke-width="1.05" stroke-linejoin="round"/>
<path d="M599.5,389.3 C603.67,389.3 607.83,389.3 612,389.3 C613.03,389.3 614.07,362.69 615.1,353 C616.03,344.25 616.97,331 617.9,331 C619.07,331 620.23,337.03 621.4,339.4 C623.13,342.92 624.87,348.4 626.6,348.4 C627.3,348.4 628,344.5 628.7,342.5 C629.53,340.11 630.37,335.2 631.2,335.2 C632.47,335.2 633.73,338.07 635,339.4 C636.4,340.87 637.8,343.6 639.2,343.6 C640.23,343.6 641.27,343.15 642.3,342.5 C643.33,341.85 644.37,333.8 645.4,333.8 C646.47,333.8 647.53,334.56 648.6,335.2 C649.97,336.02 651.33,339.4 652.7,339.4 C653.77,339.4 654.83,335.84 655.9,335.2 C657.13,334.47 658.37,333.8 659.6,333.8 C661.07,333.8 662.53,336.45 664,337.3 C665.3,338.06 666.6,338.57 667.9,339.1 C670.07,339.98 672.23,340.52 674.4,341.4 C676.23,342.14 678.07,344 679.9,344 C682.37,344 684.83,335.01 687.3,334.4 C688.9,334 690.5,333.7 692.1,333.7 C693.17,333.7 694.23,333.7 695.3,333.7 C697.43,333.7 699.57,326.3 701.7,326.3 C704.4,326.3 707.1,327 709.8,327 C711.93,327 714.07,320.9 716.2,320.9 C718.87,320.9 721.53,322.5 724.2,322.5 C725.8,322.5 727.4,317.7 729,317.7 C732.23,317.7 735.47,317.7 738.7,317.7 C740.3,317.7 741.9,314.5 743.5,314.5 C746.7,314.5 749.9,314.5 753.1,314.5 C754.7,314.5 756.3,311.61 757.9,311.3 C761.1,310.67 764.3,310.89 767.5,310.3 C769.13,310 770.77,308.11 772.4,308 C775.6,307.79 778.8,307.9 782,307.7 C783.6,307.6 785.2,306.4 786.8,306.4 C788.4,306.4 790,306.87 791.6,307.1" fill="none" stroke="#ED7D31" stroke-width="1.05" stroke-linejoin="round"/>
<line x1="568" y1="286.5" x2="798" y2="286.5" stroke="#111" stroke-width="1.05"/>
<line x1="568" y1="415.5" x2="798" y2="415.5" stroke="#111" stroke-width="1.05"/>
<line x1="568.5" y1="286" x2="568.5" y2="416" stroke="#111" stroke-width="1.05"/>
<line x1="797.5" y1="286" x2="797.5" y2="416" stroke="#111" stroke-width="1.05"/>
<ellipse cx="28.6" cy="84.5" rx="26.05" ry="24.1" fill="none" stroke="#2E6DB4" stroke-width="3.3"/>
<rect x="0" y="76.2" width="58.8" height="15.9" fill="#8FAADC"/>
<text x="29" y="88" text-anchor="middle" class="s">Scenario - 0</text>
<defs><radialGradient id="vg" cx="48%" cy="45%" r="55%"><stop offset="0" stop-color="#f0f0f2"/><stop offset="0.6" stop-color="#d0d0d6"/><stop offset="1" stop-color="#9a9aa4"/></radialGradient></defs>
<line x1="50.10" y1="212.91" x2="54.39" y2="212.82" stroke="#8c2a26" stroke-width="1.6"/>
<line x1="49.69" y1="217.96" x2="53.91" y2="218.82" stroke="#8c2a26" stroke-width="1.6"/>
<line x1="47.58" y1="224.46" x2="51.35" y2="226.52" stroke="#8c2a26" stroke-width="1.6"/>
<line x1="45.62" y1="227.75" x2="48.98" y2="230.43" stroke="#8c2a26" stroke-width="1.6"/>
<line x1="41.17" y1="232.38" x2="43.60" y2="235.93" stroke="#8c2a26" stroke-width="1.6"/>
<line x1="37.18" y1="234.77" x2="38.77" y2="238.77" stroke="#8c2a26" stroke-width="1.6"/>
<line x1="33.15" y1="236.05" x2="33.89" y2="240.29" stroke="#8c2a26" stroke-width="1.6"/>
<line x1="27.11" y1="236.23" x2="26.59" y2="240.50" stroke="#8c2a26" stroke-width="1.6"/>
<line x1="23.41" y1="235.32" x2="22.11" y2="239.42" stroke="#8c2a26" stroke-width="1.6"/>
<line x1="18.09" y1="232.43" x2="15.67" y2="235.99" stroke="#8c2a26" stroke-width="1.6"/>
<line x1="14.98" y1="229.52" x2="11.91" y2="232.53" stroke="#8c2a26" stroke-width="1.6"/>
<line x1="11.94" y1="225.08" x2="8.23" y2="227.26" stroke="#8c2a26" stroke-width="1.6"/>
<line x1="9.74" y1="219.11" x2="5.58" y2="220.17" stroke="#8c2a26" stroke-width="1.6"/>
<line x1="9.12" y1="212.50" x2="4.82" y2="212.33" stroke="#8c2a26" stroke-width="1.6"/>
<line x1="9.49" y1="208.91" x2="5.28" y2="208.07" stroke="#8c2a26" stroke-width="1.6"/>
<line x1="11.14" y1="203.39" x2="7.27" y2="201.52" stroke="#8c2a26" stroke-width="1.6"/>
<line x1="14.47" y1="197.89" x2="11.29" y2="194.99" stroke="#8c2a26" stroke-width="1.6"/>
<line x1="18.88" y1="193.80" x2="16.63" y2="190.13" stroke="#8c2a26" stroke-width="1.6"/>
<line x1="22.51" y1="191.82" x2="21.02" y2="187.79" stroke="#8c2a26" stroke-width="1.6"/>
<line x1="26.88" y1="190.60" x2="26.31" y2="186.34" stroke="#8c2a26" stroke-width="1.6"/>
<line x1="33.23" y1="190.76" x2="33.99" y2="186.53" stroke="#8c2a26" stroke-width="1.6"/>
<line x1="35.82" y1="191.48" x2="37.12" y2="187.39" stroke="#8c2a26" stroke-width="1.6"/>
<line x1="41.96" y1="195.05" x2="44.55" y2="191.62" stroke="#8c2a26" stroke-width="1.6"/>
<line x1="44.60" y1="197.72" x2="47.74" y2="194.79" stroke="#8c2a26" stroke-width="1.6"/>
<line x1="47.33" y1="201.85" x2="51.05" y2="199.69" stroke="#8c2a26" stroke-width="1.6"/>
<line x1="49.26" y1="206.88" x2="53.38" y2="205.66" stroke="#8c2a26" stroke-width="1.6"/>
<ellipse cx="29.60" cy="213.40" rx="21.50" ry="24.00" fill="url(#vg)"/>
<polygon points="57.77,215.33 50.49,214.42 54.92,208.57" fill="#b73c34"/>
<circle cx="54.39" cy="212.77" r="2.63" fill="#b73c34"/>
<polygon points="50.12,219.08 56.32,217.67 54.44,223.74" fill="#a42e2a"/>
<circle cx="53.63" cy="220.16" r="2.27" fill="#a42e2a"/>
<polygon points="48.58,224.88 53.84,221.69 53.98,227.84" fill="#b73c34"/>
<circle cx="52.13" cy="224.80" r="2.20" fill="#b73c34"/>
<polygon points="44.49,229.43 51.77,229.53 48.04,235.78" fill="#c0473d"/>
<circle cx="48.10" cy="231.58" r="2.60" fill="#c0473d"/>
<polygon points="42.61,232.20 47.49,236.54 41.30,238.60" fill="#b73c34"/>
<circle cx="43.80" cy="235.78" r="2.34" fill="#b73c34"/>
<polygon points="41.94,235.78 40.14,242.50 35.22,237.57" fill="#c0473d"/>
<circle cx="39.10" cy="238.62" r="2.49" fill="#c0473d"/>
<polygon points="34.68,243.12 28.33,241.71 32.72,236.91" fill="#a42e2a"/>
<circle cx="31.91" cy="240.58" r="2.33" fill="#a42e2a"/>
<polygon points="30.67,238.83 26.42,244.69 23.47,238.08" fill="#b73c34"/>
<circle cx="26.85" cy="240.53" r="2.59" fill="#b73c34"/>
<polygon points="21.42,234.67 24.59,241.54 17.06,240.84" fill="#a42e2a"/>
<circle cx="21.02" cy="239.02" r="2.71" fill="#a42e2a"/>
<polygon points="13.03,239.35 13.35,231.93 19.62,235.91" fill="#8e2422"/>
<circle cx="15.33" cy="235.73" r="2.66" fill="#8e2422"/>
<polygon points="14.92,233.52 8.11,234.15 10.97,227.94" fill="#c0473d"/>
<circle cx="11.34" cy="231.87" r="2.45" fill="#c0473d"/>
<polygon points="11.70,228.64 5.29,229.56 7.70,223.55" fill="#a42e2a"/>
<circle cx="8.23" cy="227.25" r="2.32" fill="#a42e2a"/>
<polygon points="4.50,223.28 2.37,216.53 9.28,218.06" fill="#c0473d"/>
<circle cx="5.38" cy="219.29" r="2.53" fill="#c0473d"/>
<polygon points="8.62,212.28 4.19,217.83 1.60,211.21" fill="#a42e2a"/>
<circle cx="4.80" cy="213.77" r="2.54" fill="#a42e2a"/>
<polygon points="9.20,208.79 2.26,209.86 4.80,203.32" fill="#c0473d"/>
<circle cx="5.42" cy="207.33" r="2.51" fill="#c0473d"/>
<polygon points="5.13,202.11 7.60,196.35 11.35,201.37" fill="#b73c34"/>
<circle cx="8.02" cy="199.94" r="2.24" fill="#b73c34"/>
<polygon points="8.13,195.54 12.68,190.43 14.83,196.92" fill="#b73c34"/>
<circle cx="11.88" cy="194.30" r="2.45" fill="#b73c34"/>
<polygon points="18.45,187.60 17.03,194.90 11.42,190.02" fill="#c0473d"/>
<circle cx="15.63" cy="190.84" r="2.66" fill="#c0473d"/>
<polygon points="18.60,184.61 24.05,188.53 17.93,191.28" fill="#8e2422"/>
<circle cx="20.19" cy="188.14" r="2.40" fill="#8e2422"/>
<polygon points="27.92,189.67 22.56,186.13 28.30,183.26" fill="#a42e2a"/>
<circle cx="26.26" cy="186.35" r="2.30" fill="#a42e2a"/>
<polygon points="33.61,182.97 33.70,189.39 28.09,186.26" fill="#c0473d"/>
<circle cx="31.80" cy="186.21" r="2.30" fill="#c0473d"/>
<polygon points="34.23,189.35 37.56,183.77 40.73,189.45" fill="#b73c34"/>
<circle cx="37.50" cy="187.52" r="2.33" fill="#b73c34"/>
<polygon points="41.90,186.96 47.33,191.29 40.87,193.83" fill="#b73c34"/>
<circle cx="43.37" cy="190.69" r="2.49" fill="#b73c34"/>
<polygon points="44.29,196.43 49.20,191.41 51.09,198.17" fill="#a42e2a"/>
<circle cx="48.19" cy="195.33" r="2.51" fill="#a42e2a"/>
<polygon points="48.56,204.40 51.54,197.47 56.05,203.53" fill="#c0473d"/>
<circle cx="52.05" cy="201.80" r="2.70" fill="#c0473d"/>
<polygon points="57.24,208.03 50.49,208.93 53.08,202.63" fill="#c0473d"/>
<circle cx="53.60" cy="206.53" r="2.44" fill="#c0473d"/>
<polygon points="26.72,197.18 21.68,195.16 25.95,191.80" fill="#a42e2a"/>
<circle cx="24.78" cy="194.71" r="1.94" fill="#a42e2a"/>
<polygon points="27.28,195.05 32.23,192.83 31.68,198.23" fill="#b73c34"/>
<circle cx="30.40" cy="195.37" r="1.94" fill="#b73c34"/>
<polygon points="37.89,194.32 35.34,198.90 32.65,194.41" fill="#9a2c28"/>
<circle cx="35.29" cy="195.88" r="1.88" fill="#9a2c28"/>
<polygon points="15.81,196.99 17.49,201.72 12.55,200.81" fill="#9a2c28"/>
<circle cx="15.28" cy="199.84" r="1.80" fill="#9a2c28"/>
<polygon points="21.28,196.30 22.29,202.16 16.71,200.11" fill="#b73c34"/>
<circle cx="20.09" cy="199.52" r="2.13" fill="#b73c34"/>
<polygon points="24.56,200.90 28.80,198.19 29.03,203.21" fill="#9a2c28"/>
<circle cx="27.46" cy="200.76" r="1.80" fill="#9a2c28"/>
<polygon points="33.26,204.77 30.60,199.49 36.50,199.83" fill="#c0473d"/>
<circle cx="33.45" cy="201.36" r="2.11" fill="#c0473d"/>
<polygon points="42.54,200.42 38.82,204.30 37.32,199.14" fill="#8e2422"/>
<circle cx="39.56" cy="201.28" r="1.92" fill="#8e2422"/>
<polygon points="13.21,206.33 18.04,202.64 18.82,208.67" fill="#a42e2a"/>
<circle cx="16.69" cy="205.88" r="2.18" fill="#a42e2a"/>
<polygon points="26.31,204.81 24.09,209.07 21.50,205.02" fill="#a42e2a"/>
<circle cx="23.97" cy="206.30" r="1.72" fill="#a42e2a"/>
<polygon points="27.61,207.44 30.82,203.07 33.00,208.03" fill="#b73c34"/>
<circle cx="30.48" cy="206.18" r="1.94" fill="#b73c34"/>
<polygon points="32.87,205.40 37.35,201.19 38.76,207.18" fill="#c0473d"/>
<circle cx="36.33" cy="204.59" r="2.20" fill="#c0473d"/>
<polygon points="45.58,205.08 40.96,206.77 41.81,201.92" fill="#b73c34"/>
<circle cx="42.78" cy="204.59" r="1.76" fill="#b73c34"/>
<polygon points="11.15,209.85 17.14,208.52 15.30,214.37" fill="#b73c34"/>
<circle cx="14.53" cy="210.91" r="2.20" fill="#b73c34"/>
<polygon points="16.09,209.22 21.89,207.06 20.86,213.16" fill="#a42e2a"/>
<circle cx="19.61" cy="209.81" r="2.22" fill="#a42e2a"/>
<polygon points="31.17,211.43 25.50,213.48 26.55,207.54" fill="#b73c34"/>
<circle cx="27.74" cy="210.82" r="2.16" fill="#b73c34"/>
<polygon points="32.01,214.36 29.38,209.12 35.24,209.46" fill="#8e2422"/>
<circle cx="32.21" cy="210.98" r="2.10" fill="#8e2422"/>
<polygon points="41.72,207.98 39.32,213.58 35.67,208.71" fill="#8e2422"/>
<circle cx="38.91" cy="210.09" r="2.18" fill="#8e2422"/>
<polygon points="47.85,214.05 42.61,212.44 46.62,208.71" fill="#9a2c28"/>
<circle cx="45.69" cy="211.73" r="1.96" fill="#9a2c28"/>
<polygon points="19.82,219.90 15.05,216.92 20.02,214.28" fill="#b73c34"/>
<circle cx="18.29" cy="217.03" r="2.01" fill="#b73c34"/>
<polygon points="22.22,213.99 26.72,217.22 21.67,219.51" fill="#8e2422"/>
<circle cx="23.54" cy="216.91" r="1.98" fill="#8e2422"/>
<polygon points="33.06,217.52 27.25,218.49 29.31,212.98" fill="#9a2c28"/>
<circle cx="29.87" cy="216.33" r="2.11" fill="#9a2c28"/>
<polygon points="32.68,214.22 37.46,213.56 35.64,218.03" fill="#c0473d"/>
<circle cx="35.26" cy="215.27" r="1.73" fill="#c0473d"/>
<polygon points="45.88,216.84 41.74,220.26 40.85,214.97" fill="#9a2c28"/>
<circle cx="42.82" cy="217.36" r="1.92" fill="#9a2c28"/>
<polygon points="17.12,219.74 15.77,224.61 12.22,221.00" fill="#9a2c28"/>
<circle cx="15.04" cy="221.78" r="1.81" fill="#9a2c28"/>
<polygon points="23.28,218.48 23.05,224.03 18.36,221.05" fill="#b73c34"/>
<circle cx="21.56" cy="221.19" r="1.99" fill="#b73c34"/>
<polygon points="24.36,218.13 28.93,220.94 24.21,223.49" fill="#a42e2a"/>
<circle cx="25.83" cy="220.86" r="1.92" fill="#a42e2a"/>
<polygon points="35.10,219.28 33.09,224.02 29.99,219.92" fill="#a42e2a"/>
<circle cx="32.73" cy="221.07" r="1.84" fill="#a42e2a"/>
<polygon points="38.21,225.58 35.45,220.58 41.16,220.69" fill="#b73c34"/>
<circle cx="38.27" cy="222.28" r="2.04" fill="#b73c34"/>
<polygon points="41.72,223.70 44.04,218.34 47.52,223.02" fill="#a42e2a"/>
<circle cx="44.43" cy="221.69" r="2.09" fill="#a42e2a"/>
<polygon points="15.66,228.10 17.95,223.27 20.99,227.67" fill="#9a2c28"/>
<circle cx="18.20" cy="226.35" r="1.91" fill="#9a2c28"/>
<polygon points="26.17,227.15 21.74,229.04 22.32,224.25" fill="#8e2422"/>
<circle cx="23.41" cy="226.81" r="1.73" fill="#8e2422"/>
<polygon points="27.23,226.72 31.54,224.83 31.02,229.50" fill="#8e2422"/>
<circle cx="29.93" cy="227.02" r="1.68" fill="#8e2422"/>
<polygon points="38.27,227.77 34.56,230.90 33.70,226.12" fill="#b73c34"/>
<circle cx="35.51" cy="228.26" r="1.74" fill="#b73c34"/>
<polygon points="40.90,229.31 39.08,224.94 43.78,225.54" fill="#b73c34"/>
<circle cx="41.25" cy="226.60" r="1.70" fill="#b73c34"/>
<polygon points="24.73,232.81 27.33,228.82 29.49,233.07" fill="#b73c34"/>
<circle cx="27.18" cy="231.57" r="1.71" fill="#b73c34"/>
<polygon points="34.70,235.25 29.04,235.23 31.88,230.33" fill="#8e2422"/>
<circle cx="31.87" cy="233.60" r="2.03" fill="#8e2422"/>
<circle cx="22.80" cy="225.50" r="1.36" fill="#5d6068" opacity="0.7"/>
<circle cx="28.91" cy="220.26" r="1.12" fill="#5d6068" opacity="0.7"/>
<circle cx="30.01" cy="219.74" r="0.90" fill="#5d6068" opacity="0.7"/>
<circle cx="36.94" cy="216.08" r="0.99" fill="#5d6068" opacity="0.7"/>
<circle cx="24.52" cy="229.14" r="0.97" fill="#5d6068" opacity="0.7"/>
<circle cx="22.35" cy="213.40" r="1.01" fill="#5d6068" opacity="0.7"/>
<circle cx="38.15" cy="214.49" r="0.81" fill="#5d6068" opacity="0.7"/>
<circle cx="28.25" cy="199.23" r="0.91" fill="#5d6068" opacity="0.7"/>
<circle cx="13.18" cy="216.33" r="0.86" fill="#5d6068" opacity="0.7"/>
<circle cx="34.34" cy="201.94" r="1.10" fill="#5d6068" opacity="0.7"/>
<circle cx="35.07" cy="203.02" r="1.10" fill="#5d6068" opacity="0.7"/>
<circle cx="23.10" cy="195.81" r="1.01" fill="#5d6068" opacity="0.7"/>
<circle cx="36.75" cy="199.37" r="1.18" fill="#5d6068" opacity="0.7"/>
<circle cx="21.22" cy="219.78" r="0.83" fill="#5d6068" opacity="0.7"/>
<rect x="0" y="207" width="59.5" height="15.7" fill="#FFE699"/>
<text x="29.4" y="218.7" text-anchor="middle" class="s">Scenario - 3</text>
<ellipse cx="30" cy="347.75" rx="26.05" ry="24" fill="none" stroke="#2E6DB4" stroke-width="3.3"/>
<rect x="0" y="340" width="59.5" height="15.6" fill="#F4B183"/>
<text x="29.8" y="350.8" text-anchor="middle" class="s">Scenario - 4</text>
</svg>
</body></html>
